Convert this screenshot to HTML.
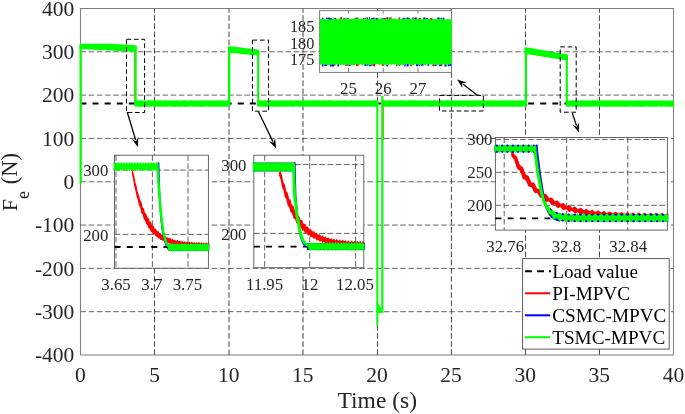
<!DOCTYPE html>
<html lang="en"><head><meta charset="utf-8"><title>Fe vs Time</title>
<style>html,body{margin:0;padding:0;background:#fff}svg{display:block}</style></head>
<body>
<svg width="685" height="414" viewBox="0 0 685 414" font-family="'Liberation Serif', serif" fill="#262626">
<rect width="685" height="414" fill="#fff"/>
<line x1="154.45" y1="355" x2="154.45" y2="8.5" stroke="#454545" stroke-width="1" stroke-dasharray="5.6 2.55"/>
<line x1="229" y1="355" x2="229" y2="8.5" stroke="#454545" stroke-width="1" stroke-dasharray="5.6 2.55"/>
<line x1="303" y1="355" x2="303" y2="8.5" stroke="#454545" stroke-width="1" stroke-dasharray="5.6 2.55"/>
<line x1="377.45" y1="355" x2="377.45" y2="8.5" stroke="#454545" stroke-width="1" stroke-dasharray="5.6 2.55"/>
<line x1="451.4" y1="355" x2="451.4" y2="8.5" stroke="#454545" stroke-width="1" stroke-dasharray="5.6 2.55"/>
<line x1="525.55" y1="355" x2="525.55" y2="8.5" stroke="#454545" stroke-width="1" stroke-dasharray="5.6 2.55"/>
<line x1="599.45" y1="355" x2="599.45" y2="8.5" stroke="#454545" stroke-width="1" stroke-dasharray="5.6 2.55"/>
<line x1="80.45" y1="311.69" x2="673.45" y2="311.69" stroke="#555555" stroke-width="0.9" stroke-dasharray="5.6 2.6"/>
<line x1="80.45" y1="268.38" x2="673.45" y2="268.38" stroke="#555555" stroke-width="0.9" stroke-dasharray="5.6 2.6"/>
<line x1="80.45" y1="225.06" x2="673.45" y2="225.06" stroke="#555555" stroke-width="0.9" stroke-dasharray="5.6 2.6"/>
<line x1="80.45" y1="181.75" x2="673.45" y2="181.75" stroke="#555555" stroke-width="0.9" stroke-dasharray="5.6 2.6"/>
<line x1="80.45" y1="138.44" x2="673.45" y2="138.44" stroke="#555555" stroke-width="0.9" stroke-dasharray="5.6 2.6"/>
<line x1="80.45" y1="95.12" x2="673.45" y2="95.12" stroke="#555555" stroke-width="0.9" stroke-dasharray="5.6 2.6"/>
<line x1="80.45" y1="51.81" x2="673.45" y2="51.81" stroke="#555555" stroke-width="0.9" stroke-dasharray="5.6 2.6"/>
<rect x="80.45" y="8.5" width="593" height="346.5" fill="none" stroke="#7c7c7c" stroke-width="1"/>
<line x1="80.45" y1="103.6" x2="673.45" y2="103.6" stroke="#000" stroke-width="2" stroke-dasharray="6 6.1"/>
<line x1="134.5" y1="50" x2="134.5" y2="103" stroke="#ff5a00" stroke-width="0.7"/>
<line x1="383.6" y1="106" x2="383.6" y2="140" stroke="#ff0000" stroke-width="0.6"/>
<line x1="80.7" y1="183.4" x2="80.7" y2="45" stroke="#00ff00" stroke-width="2.3"/>
<polygon points="79.6,43.77 80.81,43.82 82.03,43.81 83.24,43.73 84.45,43.73 85.66,43.73 86.88,43.79 88.09,43.74 89.3,43.82 90.51,43.81 91.73,43.88 92.94,43.86 94.15,43.74 95.37,43.77 96.58,43.75 97.79,43.82 99,43.81 100.22,43.73 101.43,43.83 102.64,43.77 103.86,43.79 105.07,43.85 106.28,43.76 107.49,43.8 108.71,43.84 109.92,43.88 111.13,43.79 112.34,43.77 113.56,43.83 114.77,44.02 115.98,44.12 117.2,44.17 118.41,44.23 119.62,44.35 120.83,44.37 122.05,44.38 123.26,44.56 124.47,44.66 125.69,44.67 126.9,44.69 128.11,44.79 129.32,44.86 130.54,44.95 131.75,45.07 132.96,45.1 134.17,45.25 135.39,45.37 136.6,45.36 136.6,51.99 135.39,51.99 134.17,51.92 132.96,51.79 131.75,51.79 130.54,51.62 129.32,51.63 128.11,51.46 126.9,51.45 125.69,51.41 124.47,51.28 123.26,51.33 122.05,51.21 120.83,51.14 119.62,51.11 118.41,50.97 117.2,50.92 115.98,50.81 114.77,50.78 113.56,50.73 112.34,50.63 111.13,50.6 109.92,50.44 108.71,50.41 107.49,50.44 106.28,50.34 105.07,50.3 103.86,50.18 102.64,50.17 101.43,50.09 100.22,50 99,49.92 97.79,49.92 96.58,49.89 95.37,49.88 94.15,49.71 92.94,49.68 91.73,49.59 90.51,49.59 89.3,49.62 88.09,49.45 86.88,49.49 85.66,49.31 84.45,49.31 83.24,49.27 82.03,49.19 80.81,49.09 79.6,49.04" fill="#00ff00"/>
<line x1="135.5" y1="46" x2="135.5" y2="104" stroke="#00ff00" stroke-width="2.4"/>
<polygon points="134.3,100.36 135.5,100.54 136.7,100.3 137.9,100.32 139.1,100.43 140.3,100.25 141.5,100.36 142.7,100.54 143.9,100.4 145.1,100.45 146.3,100.52 147.5,100.51 148.7,100.37 149.9,100.28 151.1,100.27 152.3,100.31 153.5,100.35 154.7,100.25 155.9,100.28 157.1,100.26 158.3,100.43 159.5,100.33 160.7,100.36 161.9,100.5 163.1,100.39 164.3,100.28 165.5,100.35 166.7,100.5 167.9,100.26 169.1,100.41 170.3,100.41 171.5,100.41 172.7,100.51 173.9,100.33 175.1,100.3 176.3,100.41 177.5,100.35 178.7,100.49 179.9,100.51 181.1,100.5 182.3,100.32 183.5,100.36 184.7,100.26 185.9,100.33 187.1,100.54 188.3,100.53 189.5,100.54 190.7,100.32 191.9,100.31 193.1,100.44 194.3,100.5 195.5,100.45 196.7,100.28 197.9,100.52 199.1,100.48 200.3,100.3 201.5,100.35 202.7,100.54 203.9,100.37 205.1,100.47 206.3,100.29 207.5,100.52 208.7,100.29 209.9,100.54 211.1,100.36 212.3,100.29 213.5,100.54 214.7,100.41 215.9,100.38 217.1,100.5 218.3,100.33 219.5,100.32 220.7,100.33 221.9,100.29 223.1,100.36 224.3,100.43 225.5,100.38 226.7,100.4 227.9,100.41 229.1,100.38 230.3,100.25 230.3,106.79 229.1,106.6 227.9,106.56 226.7,106.71 225.5,106.83 224.3,106.82 223.1,106.69 221.9,106.82 220.7,106.68 219.5,106.73 218.3,106.64 217.1,106.61 215.9,106.81 214.7,106.83 213.5,106.74 212.3,106.55 211.1,106.71 209.9,106.75 208.7,106.8 207.5,106.79 206.3,106.6 205.1,106.6 203.9,106.83 202.7,106.67 201.5,106.79 200.3,106.79 199.1,106.69 197.9,106.78 196.7,106.75 195.5,106.79 194.3,106.69 193.1,106.82 191.9,106.61 190.7,106.62 189.5,106.66 188.3,106.85 187.1,106.68 185.9,106.76 184.7,106.63 183.5,106.56 182.3,106.71 181.1,106.77 179.9,106.79 178.7,106.85 177.5,106.62 176.3,106.78 175.1,106.78 173.9,106.66 172.7,106.76 171.5,106.84 170.3,106.56 169.1,106.59 167.9,106.84 166.7,106.6 165.5,106.63 164.3,106.58 163.1,106.7 161.9,106.85 160.7,106.59 159.5,106.65 158.3,106.59 157.1,106.81 155.9,106.66 154.7,106.6 153.5,106.57 152.3,106.6 151.1,106.57 149.9,106.74 148.7,106.67 147.5,106.79 146.3,106.78 145.1,106.57 143.9,106.74 142.7,106.76 141.5,106.72 140.3,106.68 139.1,106.63 137.9,106.7 136.7,106.62 135.5,106.6 134.3,106.82" fill="#00ff00"/>
<line x1="229.2" y1="47" x2="229.2" y2="104" stroke="#00ff00" stroke-width="2.3"/>
<polygon points="228.1,45.95 229.34,46.18 230.59,46.27 231.83,46.45 233.08,46.53 234.32,46.7 235.56,46.93 236.81,47.05 238.05,47.25 239.3,47.35 240.54,47.48 241.78,47.62 243.03,47.77 244.27,47.96 245.52,48.14 246.76,48.23 248,48.42 249.25,48.46 250.49,48.6 251.74,48.74 252.98,49.01 254.22,49.05 255.47,49.28 256.71,49.47 257.96,49.51 259.2,49.68 259.2,55.8 257.96,55.74 256.71,55.61 255.47,55.35 254.22,55.31 252.98,55.2 251.74,55.04 250.49,54.83 249.25,54.73 248,54.55 246.76,54.55 245.52,54.31 244.27,54.28 243.03,54.15 241.78,53.96 240.54,53.85 239.3,53.69 238.05,53.55 236.81,53.47 235.56,53.29 234.32,53.12 233.08,53.04 231.83,52.94 230.59,52.77 229.34,52.64 228.1,52.5" fill="#00ff00"/>
<line x1="258.2" y1="51" x2="258.2" y2="104" stroke="#00ff00" stroke-width="2.1"/>
<polygon points="257.2,100.55 258.41,100.3 259.62,100.4 260.83,100.31 262.04,100.47 263.25,100.42 264.47,100.26 265.68,100.44 266.89,100.27 268.1,100.49 269.31,100.28 270.52,100.26 271.73,100.33 272.94,100.38 274.15,100.5 275.37,100.29 276.58,100.42 277.79,100.28 279,100.46 280.21,100.27 281.42,100.44 282.63,100.28 283.84,100.27 285.05,100.39 286.26,100.42 287.48,100.33 288.69,100.41 289.9,100.28 291.11,100.27 292.32,100.34 293.53,100.48 294.74,100.4 295.95,100.35 297.16,100.33 298.37,100.47 299.58,100.31 300.8,100.53 302.01,100.5 303.22,100.4 304.43,100.37 305.64,100.46 306.85,100.35 308.06,100.46 309.27,100.37 310.48,100.27 311.69,100.27 312.91,100.33 314.12,100.28 315.33,100.51 316.54,100.33 317.75,100.34 318.96,100.3 320.17,100.33 321.38,100.54 322.59,100.32 323.81,100.34 325.02,100.25 326.23,100.39 327.44,100.31 328.65,100.25 329.86,100.28 331.07,100.26 332.28,100.34 333.49,100.43 334.7,100.48 335.92,100.46 337.13,100.37 338.34,100.55 339.55,100.47 340.76,100.26 341.97,100.52 343.18,100.47 344.39,100.29 345.6,100.4 346.81,100.49 348.02,100.43 349.24,100.45 350.45,100.32 351.66,100.29 352.87,100.28 354.08,100.42 355.29,100.44 356.5,100.4 357.71,100.49 358.92,100.4 360.13,100.45 361.35,100.47 362.56,100.27 363.77,100.47 364.98,100.47 366.19,100.4 367.4,100.39 368.61,100.48 369.82,100.44 371.03,100.29 372.25,100.47 373.46,100.42 374.67,100.27 375.88,100.45 377.09,100.45 378.3,100.4 378.3,106.69 377.09,106.64 375.88,106.76 374.67,106.63 373.46,106.55 372.25,106.64 371.03,106.63 369.82,106.57 368.61,106.74 367.4,106.76 366.19,106.66 364.98,106.84 363.77,106.61 362.56,106.63 361.35,106.63 360.13,106.57 358.92,106.71 357.71,106.77 356.5,106.55 355.29,106.75 354.08,106.74 352.87,106.8 351.66,106.66 350.45,106.56 349.24,106.76 348.02,106.82 346.81,106.8 345.6,106.8 344.39,106.71 343.18,106.79 341.97,106.74 340.76,106.8 339.55,106.74 338.34,106.59 337.13,106.65 335.92,106.81 334.7,106.75 333.49,106.71 332.28,106.62 331.07,106.56 329.86,106.67 328.65,106.63 327.44,106.7 326.23,106.7 325.02,106.66 323.81,106.66 322.59,106.84 321.38,106.71 320.17,106.84 318.96,106.68 317.75,106.69 316.54,106.62 315.33,106.75 314.12,106.8 312.91,106.6 311.69,106.77 310.48,106.59 309.27,106.65 308.06,106.74 306.85,106.8 305.64,106.84 304.43,106.7 303.22,106.8 302.01,106.68 300.8,106.58 299.58,106.69 298.37,106.72 297.16,106.55 295.95,106.56 294.74,106.6 293.53,106.64 292.32,106.64 291.11,106.61 289.9,106.6 288.69,106.62 287.48,106.59 286.26,106.83 285.05,106.65 283.84,106.81 282.63,106.81 281.42,106.79 280.21,106.83 279,106.68 277.79,106.57 276.58,106.76 275.37,106.83 274.15,106.63 272.94,106.82 271.73,106.59 270.52,106.78 269.31,106.63 268.1,106.84 266.89,106.85 265.68,106.7 264.47,106.65 263.25,106.68 262.04,106.56 260.83,106.65 259.62,106.65 258.41,106.68 257.2,106.8" fill="#00ff00"/>
<line x1="377.3" y1="101" x2="377.3" y2="325" stroke="#00ff00" stroke-width="2"/>
<line x1="382.3" y1="95.8" x2="382.3" y2="312.8" stroke="#00ff00" stroke-width="2.2"/>
<polygon points="378,303 381.5,309 381.5,313 378,313" fill="#00ff00"/>
<polygon points="381.3,100.39 382.5,100.52 383.71,100.54 384.91,100.26 386.12,100.5 387.32,100.38 388.52,100.31 389.73,100.31 390.93,100.29 392.14,100.54 393.34,100.5 394.55,100.52 395.75,100.32 396.95,100.4 398.16,100.25 399.36,100.39 400.57,100.29 401.77,100.34 402.97,100.25 404.18,100.5 405.38,100.53 406.59,100.52 407.79,100.36 409,100.55 410.2,100.36 411.4,100.33 412.61,100.28 413.81,100.34 415.02,100.32 416.22,100.4 417.42,100.36 418.63,100.52 419.83,100.44 421.04,100.53 422.24,100.47 423.44,100.47 424.65,100.48 425.85,100.34 427.06,100.53 428.26,100.39 429.47,100.34 430.67,100.54 431.87,100.45 433.08,100.42 434.28,100.3 435.49,100.31 436.69,100.4 437.89,100.52 439.1,100.38 440.3,100.31 441.51,100.35 442.71,100.32 443.91,100.42 445.12,100.47 446.32,100.37 447.53,100.36 448.73,100.27 449.94,100.54 451.14,100.4 452.34,100.51 453.55,100.33 454.75,100.37 455.96,100.54 457.16,100.51 458.36,100.26 459.57,100.52 460.77,100.43 461.98,100.37 463.18,100.5 464.39,100.54 465.59,100.28 466.79,100.41 468,100.53 469.2,100.44 470.41,100.39 471.61,100.26 472.81,100.32 474.02,100.44 475.22,100.29 476.43,100.44 477.63,100.28 478.83,100.41 480.04,100.37 481.24,100.43 482.45,100.34 483.65,100.54 484.86,100.52 486.06,100.32 487.26,100.54 488.47,100.34 489.67,100.4 490.88,100.38 492.08,100.45 493.28,100.32 494.49,100.35 495.69,100.45 496.9,100.49 498.1,100.4 499.3,100.54 500.51,100.5 501.71,100.32 502.92,100.34 504.12,100.4 505.33,100.32 506.53,100.45 507.73,100.29 508.94,100.31 510.14,100.29 511.35,100.27 512.55,100.52 513.75,100.47 514.96,100.53 516.16,100.31 517.37,100.47 518.57,100.45 519.78,100.36 520.98,100.3 522.18,100.33 523.39,100.54 524.59,100.54 525.8,100.36 527,100.5 527,106.68 525.8,106.8 524.59,106.61 523.39,106.59 522.18,106.66 520.98,106.55 519.78,106.65 518.57,106.66 517.37,106.56 516.16,106.83 514.96,106.65 513.75,106.85 512.55,106.82 511.35,106.67 510.14,106.57 508.94,106.84 507.73,106.67 506.53,106.83 505.33,106.68 504.12,106.61 502.92,106.84 501.71,106.78 500.51,106.62 499.3,106.64 498.1,106.61 496.9,106.77 495.69,106.61 494.49,106.68 493.28,106.56 492.08,106.83 490.88,106.63 489.67,106.75 488.47,106.56 487.26,106.76 486.06,106.62 484.86,106.69 483.65,106.74 482.45,106.69 481.24,106.55 480.04,106.62 478.83,106.72 477.63,106.57 476.43,106.76 475.22,106.63 474.02,106.64 472.81,106.83 471.61,106.78 470.41,106.72 469.2,106.78 468,106.77 466.79,106.75 465.59,106.6 464.39,106.62 463.18,106.81 461.98,106.83 460.77,106.55 459.57,106.69 458.36,106.76 457.16,106.56 455.96,106.8 454.75,106.68 453.55,106.62 452.34,106.61 451.14,106.74 449.94,106.59 448.73,106.63 447.53,106.65 446.32,106.71 445.12,106.67 443.91,106.82 442.71,106.63 441.51,106.58 440.3,106.58 439.1,106.59 437.89,106.85 436.69,106.62 435.49,106.82 434.28,106.6 433.08,106.67 431.87,106.64 430.67,106.63 429.47,106.77 428.26,106.65 427.06,106.59 425.85,106.56 424.65,106.74 423.44,106.69 422.24,106.56 421.04,106.71 419.83,106.82 418.63,106.79 417.42,106.84 416.22,106.61 415.02,106.63 413.81,106.83 412.61,106.8 411.4,106.56 410.2,106.68 409,106.73 407.79,106.67 406.59,106.64 405.38,106.76 404.18,106.59 402.97,106.78 401.77,106.8 400.57,106.65 399.36,106.64 398.16,106.7 396.95,106.56 395.75,106.82 394.55,106.76 393.34,106.7 392.14,106.59 390.93,106.71 389.73,106.72 388.52,106.83 387.32,106.63 386.12,106.84 384.91,106.69 383.71,106.83 382.5,106.61 381.3,106.59" fill="#00ff00"/>
<line x1="525.85" y1="48" x2="525.85" y2="104" stroke="#00ff00" stroke-width="2.3"/>
<polygon points="524.7,46.93 525.93,47.19 527.16,47.38 528.39,47.71 529.63,47.84 530.86,48.11 532.09,48.21 533.32,48.57 534.55,48.75 535.78,48.9 537.01,49.22 538.25,49.32 539.48,49.54 540.71,49.71 541.94,50.07 543.17,50.29 544.4,50.39 545.63,50.72 546.87,50.84 548.1,51.06 549.33,51.35 550.56,51.55 551.79,51.77 553.02,51.95 554.25,52.11 555.49,52.4 556.72,52.52 557.95,52.75 559.18,52.93 560.41,53.19 561.64,53.49 562.87,53.61 564.11,53.79 565.34,54.1 566.57,54.24 567.8,54.52 567.8,60.63 566.57,60.39 565.34,60.2 564.11,60.02 562.87,59.76 561.64,59.71 560.41,59.51 559.18,59.25 557.95,58.98 556.72,58.89 555.49,58.59 554.25,58.44 553.02,58.24 551.79,58.12 550.56,57.92 549.33,57.63 548.1,57.49 546.87,57.26 545.63,57.18 544.4,56.9 543.17,56.64 541.94,56.54 540.71,56.37 539.48,56.1 538.25,55.97 537.01,55.76 535.78,55.51 534.55,55.42 533.32,55.12 532.09,54.9 530.86,54.7 529.63,54.63 528.39,54.31 527.16,54.17 525.93,54.06 524.7,53.8" fill="#00ff00"/>
<line x1="566.8" y1="55" x2="566.8" y2="104" stroke="#00ff00" stroke-width="2.1"/>
<polygon points="565.8,100.47 567,100.45 568.2,100.5 569.4,100.42 570.6,100.47 571.8,100.32 573,100.3 574.2,100.42 575.4,100.37 576.61,100.4 577.81,100.49 579.01,100.55 580.21,100.39 581.41,100.5 582.61,100.26 583.81,100.29 585.01,100.54 586.21,100.53 587.41,100.51 588.61,100.33 589.81,100.53 591.01,100.43 592.21,100.32 593.41,100.29 594.61,100.33 595.81,100.45 597.01,100.25 598.21,100.45 599.42,100.34 600.62,100.49 601.82,100.27 603.02,100.37 604.22,100.44 605.42,100.3 606.62,100.37 607.82,100.34 609.02,100.34 610.22,100.36 611.42,100.51 612.62,100.36 613.82,100.47 615.02,100.25 616.22,100.38 617.42,100.37 618.62,100.39 619.82,100.25 621.03,100.44 622.23,100.28 623.43,100.36 624.63,100.29 625.83,100.41 627.03,100.28 628.23,100.49 629.43,100.31 630.63,100.53 631.83,100.39 633.03,100.53 634.23,100.52 635.43,100.5 636.63,100.49 637.83,100.37 639.03,100.5 640.23,100.32 641.43,100.41 642.64,100.29 643.84,100.47 645.04,100.26 646.24,100.48 647.44,100.5 648.64,100.43 649.84,100.44 651.04,100.38 652.24,100.38 653.44,100.38 654.64,100.26 655.84,100.4 657.04,100.48 658.24,100.39 659.44,100.39 660.64,100.29 661.84,100.28 663.04,100.4 664.25,100.44 665.45,100.47 666.65,100.4 667.85,100.4 669.05,100.54 670.25,100.51 671.45,100.47 672.65,100.31 673.85,100.4 673.85,106.84 672.65,106.84 671.45,106.79 670.25,106.85 669.05,106.59 667.85,106.66 666.65,106.57 665.45,106.78 664.25,106.57 663.04,106.56 661.84,106.68 660.64,106.68 659.44,106.58 658.24,106.6 657.04,106.78 655.84,106.62 654.64,106.74 653.44,106.68 652.24,106.75 651.04,106.72 649.84,106.64 648.64,106.72 647.44,106.59 646.24,106.56 645.04,106.72 643.84,106.82 642.64,106.62 641.43,106.67 640.23,106.67 639.03,106.6 637.83,106.8 636.63,106.62 635.43,106.6 634.23,106.74 633.03,106.67 631.83,106.57 630.63,106.84 629.43,106.59 628.23,106.84 627.03,106.7 625.83,106.83 624.63,106.63 623.43,106.7 622.23,106.74 621.03,106.82 619.82,106.72 618.62,106.6 617.42,106.81 616.22,106.8 615.02,106.82 613.82,106.61 612.62,106.61 611.42,106.85 610.22,106.67 609.02,106.72 607.82,106.84 606.62,106.63 605.42,106.76 604.22,106.58 603.02,106.72 601.82,106.58 600.62,106.71 599.42,106.61 598.21,106.61 597.01,106.65 595.81,106.61 594.61,106.73 593.41,106.61 592.21,106.66 591.01,106.74 589.81,106.58 588.61,106.78 587.41,106.68 586.21,106.66 585.01,106.72 583.81,106.61 582.61,106.64 581.41,106.82 580.21,106.8 579.01,106.58 577.81,106.75 576.61,106.62 575.4,106.85 574.2,106.65 573,106.82 571.8,106.62 570.6,106.61 569.4,106.66 568.2,106.64 567,106.59 565.8,106.8" fill="#00ff00"/>
<rect x="378.6" y="102.6" width="2.2" height="1.9" fill="#000"/>
<rect x="126.5" y="39.3" width="18.1" height="73.2" fill="none" stroke="#000" stroke-width="1" stroke-dasharray="4.7 2.7"/>
<rect x="252.5" y="40.1" width="16.1" height="71.1" fill="none" stroke="#000" stroke-width="1" stroke-dasharray="4.7 2.7"/>
<rect x="439.5" y="95.4" width="43.8" height="15.6" fill="none" stroke="#000" stroke-width="1" stroke-dasharray="4.7 2.7"/>
<rect x="560.2" y="46.9" width="16" height="65.3" fill="none" stroke="#000" stroke-width="1" stroke-dasharray="4.7 2.7"/>
<line x1="127.2" y1="112" x2="135.68" y2="140.01" stroke="#000" stroke-width="1.25"/>
<polygon points="137.8,147 131.85,139.08 136.02,141.13 138.36,137.11" fill="#000"/>
<line x1="258.5" y1="111.8" x2="272.92" y2="141.63" stroke="#000" stroke-width="1.25"/>
<polygon points="276.1,148.2 268.99,141.31 273.43,142.67 275.11,138.35" fill="#000"/>
<line x1="477" y1="94.9" x2="462.87" y2="83.97" stroke="#000" stroke-width="1.25"/>
<polygon points="457.1,79.5 466.54,82.5 461.95,83.26 462.37,87.88" fill="#000"/>
<line x1="572.2" y1="112.8" x2="576.49" y2="125.67" stroke="#000" stroke-width="1.25"/>
<polygon points="578.8,132.6 572.63,124.85 576.86,126.78 579.08,122.7" fill="#000"/>
<rect x="319.6" y="10.6" width="131.9" height="61.8" fill="#fff" stroke="#7c7c7c" stroke-width="1"/>
<line x1="348.5" y1="72.4" x2="348.5" y2="67.9" stroke="#7c7c7c" stroke-width="1"/>
<line x1="348.5" y1="10.6" x2="348.5" y2="13.6" stroke="#7c7c7c" stroke-width="1"/>
<line x1="383.2" y1="72.4" x2="383.2" y2="67.9" stroke="#7c7c7c" stroke-width="1"/>
<line x1="383.2" y1="10.6" x2="383.2" y2="13.6" stroke="#7c7c7c" stroke-width="1"/>
<line x1="418" y1="72.4" x2="418" y2="67.9" stroke="#7c7c7c" stroke-width="1"/>
<line x1="418" y1="10.6" x2="418" y2="13.6" stroke="#7c7c7c" stroke-width="1"/>
<line x1="319.6" y1="26.7" x2="322.6" y2="26.7" stroke="#7c7c7c" stroke-width="1"/>
<line x1="319.6" y1="43.4" x2="322.6" y2="43.4" stroke="#7c7c7c" stroke-width="1"/>
<line x1="319.6" y1="60.1" x2="322.6" y2="60.1" stroke="#7c7c7c" stroke-width="1"/>
<rect x="321.88" y="17.65" width="1.63" height="3.15" fill="#0000ff"/>
<rect x="321.88" y="63" width="1.66" height="3.41" fill="#0000ff"/>
<rect x="324.26" y="63" width="2.5" height="3.05" fill="#0000ff"/>
<rect x="325.91" y="17.65" width="1.61" height="3.15" fill="#0000ff"/>
<rect x="325.91" y="63" width="1.54" height="2.63" fill="#0000ff"/>
<rect x="327.5" y="17.59" width="2.46" height="3.21" fill="#0000ff"/>
<rect x="329.85" y="18.1" width="1.99" height="2.7" fill="#0000ff"/>
<rect x="329.85" y="63" width="1.89" height="3.47" fill="#0000ff"/>
<rect x="331.88" y="63" width="2.12" height="3.49" fill="#0000ff"/>
<rect x="333.75" y="17.96" width="2.59" height="2.84" fill="#0000ff"/>
<rect x="333.75" y="63" width="1.73" height="2.73" fill="#ff0000"/>
<rect x="337.39" y="63" width="1.63" height="3.34" fill="#0000ff"/>
<rect x="339.55" y="17.36" width="2.46" height="3.44" fill="#ff0000"/>
<rect x="343.6" y="17.82" width="1.77" height="2.98" fill="#0000ff"/>
<rect x="345.16" y="63" width="1.33" height="3.19" fill="#ff0000"/>
<rect x="346.56" y="17.93" width="1.98" height="2.87" fill="#0000ff"/>
<rect x="346.56" y="63" width="2.06" height="2.8" fill="#ff0000"/>
<rect x="348.67" y="63" width="1.92" height="3.16" fill="#0000ff"/>
<rect x="354.62" y="17.84" width="1.64" height="2.96" fill="#0000ff"/>
<rect x="356.08" y="17.4" width="2.07" height="3.4" fill="#ff0000"/>
<rect x="356.08" y="63" width="2.52" height="3" fill="#ff0000"/>
<rect x="362.89" y="18.03" width="1.51" height="2.77" fill="#0000ff"/>
<rect x="364.3" y="17.61" width="1.56" height="3.19" fill="#ff0000"/>
<rect x="364.3" y="63" width="2.09" height="2.78" fill="#0000ff"/>
<rect x="366.31" y="17.47" width="1.53" height="3.33" fill="#0000ff"/>
<rect x="366.31" y="63" width="2.11" height="2.66" fill="#0000ff"/>
<rect x="368.9" y="17.56" width="1.31" height="3.24" fill="#0000ff"/>
<rect x="368.9" y="63" width="1.9" height="3.27" fill="#0000ff"/>
<rect x="371.19" y="18.04" width="2.6" height="2.76" fill="#0000ff"/>
<rect x="371.19" y="63" width="1.35" height="2.81" fill="#0000ff"/>
<rect x="372.99" y="17.56" width="1.65" height="3.24" fill="#0000ff"/>
<rect x="372.99" y="63" width="2.19" height="3.21" fill="#ff0000"/>
<rect x="375.49" y="17.93" width="2.51" height="2.87" fill="#0000ff"/>
<rect x="377" y="18.19" width="1.64" height="2.61" fill="#ff0000"/>
<rect x="381.7" y="18.03" width="1.81" height="2.77" fill="#0000ff"/>
<rect x="381.7" y="63" width="2.48" height="2.82" fill="#ff0000"/>
<rect x="383.86" y="17.78" width="2.39" height="3.02" fill="#ff0000"/>
<rect x="386.29" y="17.34" width="1.6" height="3.46" fill="#0000ff"/>
<rect x="386.29" y="63" width="1.81" height="3.31" fill="#0000ff"/>
<rect x="388.39" y="17.38" width="1.49" height="3.42" fill="#ff0000"/>
<rect x="389.93" y="17.36" width="1.75" height="3.44" fill="#ff0000"/>
<rect x="396.02" y="63" width="1.56" height="3.29" fill="#ff0000"/>
<rect x="398.56" y="17.4" width="1.39" height="3.4" fill="#ff0000"/>
<rect x="398.56" y="63" width="1.57" height="2.7" fill="#0000ff"/>
<rect x="402.49" y="17.77" width="1.47" height="3.03" fill="#0000ff"/>
<rect x="404.24" y="17.82" width="1.33" height="2.98" fill="#0000ff"/>
<rect x="404.24" y="63" width="1.36" height="3.44" fill="#0000ff"/>
<rect x="406.55" y="17.51" width="2.08" height="3.29" fill="#0000ff"/>
<rect x="406.55" y="63" width="2.1" height="3.37" fill="#0000ff"/>
<rect x="407.99" y="18.17" width="1.97" height="2.63" fill="#0000ff"/>
<rect x="409.8" y="63" width="2.23" height="3.11" fill="#ff0000"/>
<rect x="412.2" y="17.46" width="1.52" height="3.34" fill="#ff0000"/>
<rect x="414.23" y="17.51" width="2.57" height="3.29" fill="#0000ff"/>
<rect x="416.04" y="63" width="2.37" height="3.23" fill="#0000ff"/>
<rect x="418.6" y="17.89" width="2.38" height="2.91" fill="#ff0000"/>
<rect x="418.6" y="63" width="1.51" height="3.12" fill="#0000ff"/>
<rect x="420.98" y="63" width="2.52" height="2.75" fill="#0000ff"/>
<rect x="423.3" y="17.49" width="2.21" height="3.31" fill="#0000ff"/>
<rect x="425.46" y="18.11" width="2.51" height="2.69" fill="#0000ff"/>
<rect x="427.36" y="63" width="1.64" height="2.79" fill="#0000ff"/>
<rect x="429.84" y="18.05" width="2.58" height="2.75" fill="#ff0000"/>
<rect x="432.38" y="63" width="2.2" height="3.13" fill="#ff0000"/>
<rect x="434.5" y="63" width="1.98" height="3.12" fill="#0000ff"/>
<rect x="436.95" y="17.6" width="2.26" height="3.2" fill="#0000ff"/>
<rect x="438.9" y="17.68" width="1.46" height="3.12" fill="#0000ff"/>
<rect x="438.9" y="63" width="2.21" height="3.18" fill="#0000ff"/>
<rect x="440.91" y="17.93" width="2.21" height="2.87" fill="#0000ff"/>
<rect x="440.91" y="63" width="1.5" height="2.74" fill="#ff0000"/>
<rect x="442.61" y="17.66" width="1.75" height="3.14" fill="#0000ff"/>
<rect x="444.4" y="63" width="2.25" height="3.48" fill="#0000ff"/>
<rect x="447.78" y="63" width="1.87" height="3.26" fill="#0000ff"/>
<rect x="449.42" y="63" width="1.8" height="2.79" fill="#0000ff"/>
<polygon points="319.8,18.75 320.91,19.19 322.02,19.1 323.13,18.36 324.24,18.76 325.35,19.51 326.46,19.01 327.56,18.78 328.67,19.23 329.78,19.31 330.89,19.43 332,19.11 333.11,18.62 334.22,18.3 335.33,19.32 336.44,19.09 337.55,18.79 338.66,19.08 339.77,19.16 340.88,18.42 341.98,19.32 343.09,18.88 344.2,18.21 345.31,18.39 346.42,19.56 347.53,18.3 348.64,18.96 349.75,18.92 350.86,19.39 351.97,18.77 353.08,18.47 354.19,18.74 355.3,18.33 356.41,18.68 357.51,18.56 358.62,18.17 359.73,18.78 360.84,18.68 361.95,18.49 363.06,19.56 364.17,18.48 365.28,18.74 366.39,18.34 367.5,19.36 368.61,18.85 369.72,18.49 370.83,18.68 371.93,19.38 373.04,18.85 374.15,18.97 375.26,19.4 376.37,19.43 377.48,18.71 378.59,18.79 379.7,18.15 380.81,18.57 381.92,18.6 383.03,18.79 384.14,19.14 385.25,19.54 386.35,18.24 387.46,19.51 388.57,18.36 389.68,19.1 390.79,18.17 391.9,19.13 393.01,18.3 394.12,18.5 395.23,18.67 396.34,19.51 397.45,18.4 398.56,19.06 399.67,19.15 400.77,19.33 401.88,18.45 402.99,18.95 404.1,18.81 405.21,18.98 406.32,18.5 407.43,18.89 408.54,18.85 409.65,18.89 410.76,18.96 411.87,18.16 412.98,18.85 414.09,19.15 415.19,18.71 416.3,19.59 417.41,19.11 418.52,18.19 419.63,19.17 420.74,18.65 421.85,18.92 422.96,19.5 424.07,19.23 425.18,18.66 426.29,18.7 427.4,18.94 428.51,18.47 429.62,18.78 430.72,19.39 431.83,19.39 432.94,18.91 434.05,18.91 435.16,19.13 436.27,18.65 437.38,18.6 438.49,19.1 439.6,18.21 440.71,19.48 441.82,18.22 442.93,18.16 444.04,19.53 445.14,19.14 446.25,19.51 447.36,19.08 448.47,19.19 449.58,19.17 450.69,19.15 451.8,19.29 451.8,64 450.69,64.54 449.58,64.17 448.47,64.74 447.36,64.79 446.25,64.77 445.14,65.03 444.04,64.76 442.93,64.13 441.82,64.3 440.71,64.67 439.6,64.93 438.49,65.03 437.38,64.73 436.27,64.33 435.16,65.04 434.05,65.31 432.94,64.26 431.83,64.46 430.72,64.29 429.62,64.68 428.51,64.5 427.4,65.01 426.29,64.56 425.18,65.14 424.07,64.79 422.96,63.9 421.85,64.58 420.74,65.32 419.63,65.25 418.52,64.76 417.41,64.8 416.3,63.96 415.19,64.48 414.09,65.11 412.98,64.69 411.87,65.11 410.76,65.14 409.65,64.6 408.54,64.07 407.43,63.94 406.32,64.06 405.21,64.25 404.1,65.17 402.99,64.96 401.88,64.89 400.77,65.11 399.67,65.19 398.56,65.02 397.45,65.19 396.34,65.04 395.23,64.08 394.12,65.01 393.01,64.06 391.9,64.23 390.79,65.28 389.68,63.87 388.57,65.1 387.46,65.03 386.35,65.09 385.25,65.13 384.14,64.39 383.03,64.81 381.92,64.57 380.81,64.22 379.7,64.93 378.59,64.13 377.48,64.23 376.37,64.25 375.26,64.38 374.15,64.04 373.04,64.29 371.93,65.07 370.83,64.81 369.72,65.3 368.61,64.69 367.5,64.8 366.39,65.01 365.28,64.17 364.17,65.05 363.06,64.64 361.95,64.96 360.84,64.25 359.73,64.9 358.62,64.48 357.51,64.45 356.41,63.93 355.3,65.33 354.19,64.99 353.08,64.88 351.97,65.27 350.86,64.63 349.75,64.81 348.64,64.93 347.53,64.71 346.42,64.63 345.31,65.02 344.2,64.67 343.09,65.31 341.98,64.43 340.88,64.83 339.77,65.25 338.66,64.46 337.55,64.53 336.44,64.23 335.33,64.92 334.22,64.48 333.11,64.79 332,64.53 330.89,64.87 329.78,64.9 328.67,65.17 327.56,64.19 326.46,64.97 325.35,64.5 324.24,64.96 323.13,64.76 322.02,64.54 320.91,64.6 319.8,65.04" fill="#00ff00"/>
<text x="314.3" y="31.5" font-size="16.3" text-anchor="end">185</text>
<text x="314.3" y="48.6" font-size="16.3" text-anchor="end">180</text>
<text x="314.3" y="65.1" font-size="16.3" text-anchor="end">175</text>
<text x="348.5" y="93.5" font-size="16.8" text-anchor="middle">25</text>
<text x="383.2" y="93.5" font-size="16.8" text-anchor="middle">26</text>
<text x="418" y="93.5" font-size="16.8" text-anchor="middle">27</text>
<rect x="114.5" y="155.2" width="93.9" height="113" fill="#fff" stroke="#5a5a5a" stroke-width="0.9"/>
<clipPath id="c2"><rect x="113.3" y="155.2" width="96.3" height="113"/></clipPath>
<g clip-path="url(#c2)">
<line x1="116" y1="155.2" x2="116" y2="268.2" stroke="#505050" stroke-width="0.9" stroke-dasharray="5.6 2.55"/>
<line x1="152.4" y1="155.2" x2="152.4" y2="268.2" stroke="#505050" stroke-width="0.9" stroke-dasharray="5.6 2.55"/>
<line x1="188" y1="155.2" x2="188" y2="268.2" stroke="#505050" stroke-width="0.9" stroke-dasharray="5.6 2.55"/>
<line x1="114.5" y1="170.1" x2="208.4" y2="170.1" stroke="#505050" stroke-width="0.9" stroke-dasharray="5.6 2.6"/>
<line x1="114.5" y1="234.4" x2="208.4" y2="234.4" stroke="#505050" stroke-width="0.9" stroke-dasharray="5.6 2.6"/>
<line x1="114.5" y1="247" x2="208.4" y2="247" stroke="#000" stroke-width="1.8" stroke-dasharray="6 6.26"/>
<polygon points="131.8,162.98 132.3,166.74 132.8,170.19 133.3,172.78 133.8,174.19 134.3,176.07 134.8,179.12 135.3,182.31 135.8,183.71 136.3,184.87 136.8,187.3 137.3,190.15 137.8,191.93 138.3,193.58 138.8,194.74 139.3,196.13 139.8,198.8 140.3,200.35 140.8,201.02 141.3,201.82 141.8,203.53 142.3,205.8 142.8,207.63 143.3,208.03 143.8,208.2 144.3,210.37 144.8,212.34 145.3,213.22 145.8,213.23 146.3,213.74 146.8,215.75 147.3,216.91 147.8,218.01 148.3,217.61 148.8,218.22 149.3,220.16 149.8,221.5 150.3,221.83 150.8,221.58 151.3,222.63 151.8,224.46 152.3,225.36 152.8,225.71 153.3,225.39 153.8,226.02 154.3,227.99 154.8,228.44 155.3,228.67 155.8,228.45 156.3,229.39 156.8,230.63 157.3,231.17 157.8,231 158.3,230.6 158.8,231.96 159.3,233.26 159.8,232.84 160.3,233.03 160.8,233.15 161.3,234.39 161.8,235.05 162.3,234.72 162.8,234.53 163.3,234.69 163.8,236.19 164.3,236.52 164.8,236.15 165.3,235.73 165.8,236.62 166.3,237.04 166.8,237.84 167.3,237.32 167.8,237.36 168.3,237.68 168.8,238.29 169.3,238.39 169.8,238.06 170.3,238.03 170.8,238.53 171.3,239.8 171.8,239.09 172.3,239.1 172.8,239.03 173.3,239.7 173.8,239.88 174.3,240.22 174.8,239.56 175.3,239.91 175.8,240.77 176.3,241.03 176.8,240.25 177.3,239.82 177.8,240.08 178.3,241.13 178.8,241.23 179.3,241.07 179.8,240.56 180.3,240.69 180.8,241.43 181.3,241.7 181.8,241.18 182.3,240.87 182.8,241.79 183.3,241.82 183.8,241.67 184.3,241.58 184.8,241.51 185.3,242.1 185.8,242.43 186.3,241.7 186.8,241.68 187.3,241.75 187.8,242.35 188.3,242.29 188.8,241.95 189.3,241.67 189.8,241.77 190.3,242.72 190.8,242.87 191.3,241.87 191.8,241.66 192.3,242.52 192.8,242.61 193.3,242.53 193.8,242.48 194.3,242 194.8,242.77 195.3,243.14 195.8,242.65 196.3,242.42 196.8,241.97 197.3,242.64 197.8,242.95 198.3,243.08 198.8,242.07 199.3,242.28 199.8,242.76 200.3,242.97 200.8,242.93 201.3,242.33 201.8,242.43 202.3,243.12 202.8,243.66 203.3,242.49 203.8,242.69 204.3,242.95 204.8,243.71 205.3,243.52 205.8,242.46 206.3,242.73 206.8,242.77 207.3,243.77 207.8,243.31 208.3,242.44 208.8,242.75 209.3,242.88 209.3,247.62 208.8,248.25 208.3,248.56 207.8,247.51 207.3,247.32 206.8,247.94 206.3,248.48 205.8,247.87 205.3,247.49 204.8,247.17 204.3,247.91 203.8,248.1 203.3,247.88 202.8,247.75 202.3,247.86 201.8,247.89 201.3,248.17 200.8,247.62 200.3,247.59 199.8,247.87 199.3,248.4 198.8,248.17 198.3,247.48 197.8,247.04 197.3,247.49 196.8,248.35 196.3,248.02 195.8,247.04 195.3,246.84 194.8,247.54 194.3,247.9 193.8,247.84 193.3,247.41 192.8,246.96 192.3,247.8 191.8,248.17 191.3,247.76 190.8,246.65 190.3,246.56 189.8,247.22 189.3,247.43 188.8,246.88 188.3,246.49 187.8,246.98 187.3,247.22 186.8,247.7 186.3,246.53 185.8,246.69 185.3,246.82 184.8,246.87 184.3,247.33 183.8,246.27 183.3,245.76 182.8,246.85 182.3,246.69 181.8,246.55 181.3,246.26 180.8,245.83 180.3,246.6 179.8,246.5 179.3,245.81 178.8,245.77 178.3,245.71 177.8,245.66 177.3,245.89 176.8,245.2 176.3,245.26 175.8,245.25 175.3,245.52 174.8,245.38 174.3,244.84 173.8,244.69 173.3,244.26 172.8,244.94 172.3,244.6 171.8,244.16 171.3,243.59 170.8,243.72 170.3,244.4 169.8,244.03 169.3,243.32 168.8,242.7 168.3,243.4 167.8,243.57 167.3,243.25 166.8,241.97 166.3,242.25 165.8,242.46 165.3,242.71 164.8,241.56 164.3,241.11 163.8,240.82 163.3,241.62 162.8,241.49 162.3,240.07 161.8,239.93 161.3,240.01 160.8,240.01 160.3,240.03 159.8,238.95 159.3,238.36 158.8,238.42 158.3,238.46 157.8,237.81 157.3,237.07 156.8,236.42 156.3,236.92 155.8,236.62 155.3,236.04 154.8,234.62 154.3,234.42 153.8,234.94 153.3,234.3 152.8,233.39 152.3,232.12 151.8,231.64 151.3,232.12 150.8,231.74 150.3,230.18 149.8,228.9 149.3,228.42 148.8,229.11 148.3,228.06 147.8,225.84 147.3,225 146.8,224.35 146.3,224.78 145.8,223.41 145.3,221.32 144.8,219.69 144.3,219.96 143.8,219.3 143.3,217.14 142.8,215.09 142.3,213.76 141.8,213.93 141.3,212.96 140.8,210.6 140.3,207.91 139.8,206.85 139.3,206.07 138.8,204.78 138.3,202.53 137.8,199.8 137.3,198.53 136.8,197.53 136.3,195.09 135.8,192.42 135.3,190.17 134.8,188.3 134.3,186.7 133.8,183.83 133.3,180.79 132.8,177.79 132.3,176.32 131.8,173.48" fill="#ff0000"/>
<polyline points="158.6,163 159,178 159.8,200 160.8,217 162.5,231 164.2,239 166,245 168.5,249.5" fill="none" stroke="#0000ff" stroke-width="1.5" stroke-linejoin="round" stroke-linecap="round"/>
<rect x="168" y="243.9" width="41.4" height="7" fill="#0000ff"/>
<polygon points="113.3,162.2 113.7,162.46 114.1,163.04 114.5,163.46 114.9,163.39 115.3,162.89 115.7,162.35 116.1,162.22 116.5,162.59 116.9,163.18 117.3,163.5 117.7,163.3 118.1,162.74 118.5,162.27 118.9,162.27 119.3,162.74 119.7,163.3 120.1,163.5 120.5,163.17 120.9,162.59 121.3,162.22 121.7,162.35 122.1,162.89 122.5,163.39 122.9,163.46 123.3,163.04 123.7,162.46 124.1,162.2 124.5,162.46 124.9,163.04 125.3,163.46 125.7,163.39 126.1,162.89 126.5,162.35 126.9,162.22 127.3,162.59 127.7,163.18 128.1,163.5 128.5,163.3 128.9,162.74 129.3,162.27 129.7,162.27 130.1,162.74 130.5,163.3 130.9,163.5 131.3,163.17 131.7,162.59 132.1,162.22 132.5,162.35 132.9,162.89 133.3,163.39 133.7,163.46 134.1,163.04 134.5,162.46 134.9,162.2 135.3,162.46 135.7,163.04 136.1,163.46 136.5,163.39 136.9,162.89 137.3,162.35 137.7,162.22 138.1,162.59 138.5,163.18 138.9,163.5 139.3,163.3 139.7,162.74 140.1,162.27 140.5,162.27 140.9,162.74 141.3,163.3 141.7,163.5 142.1,163.17 142.5,162.59 142.9,162.22 143.3,162.35 143.7,162.89 144.1,163.39 144.5,163.46 144.9,163.04 145.3,162.46 145.7,162.2 146.1,162.46 146.5,163.04 146.9,163.46 147.3,163.39 147.7,162.89 148.1,162.35 148.5,162.22 148.9,162.59 149.3,163.18 149.7,163.5 150.1,163.3 150.5,162.74 150.9,162.27 151.3,162.27 151.7,162.74 152.1,163.3 152.5,163.5 152.9,163.17 153.3,162.59 153.7,162.22 154.1,162.35 154.5,162.89 154.9,163.39 155.3,163.46 155.7,163.04 156.1,162.46 156.5,162.2 156.9,162.46 157.3,163.04 157.3,170.16 156.9,170.74 156.5,171 156.1,170.74 155.7,170.16 155.3,169.74 154.9,169.81 154.5,170.31 154.1,170.85 153.7,170.98 153.3,170.61 152.9,170.03 152.5,169.7 152.1,169.9 151.7,170.46 151.3,170.93 150.9,170.93 150.5,170.46 150.1,169.9 149.7,169.7 149.3,170.02 148.9,170.61 148.5,170.98 148.1,170.85 147.7,170.31 147.3,169.81 146.9,169.74 146.5,170.16 146.1,170.74 145.7,171 145.3,170.74 144.9,170.16 144.5,169.74 144.1,169.81 143.7,170.31 143.3,170.85 142.9,170.98 142.5,170.61 142.1,170.03 141.7,169.7 141.3,169.9 140.9,170.46 140.5,170.93 140.1,170.93 139.7,170.46 139.3,169.9 138.9,169.7 138.5,170.02 138.1,170.61 137.7,170.98 137.3,170.85 136.9,170.31 136.5,169.81 136.1,169.74 135.7,170.16 135.3,170.74 134.9,171 134.5,170.74 134.1,170.16 133.7,169.74 133.3,169.81 132.9,170.31 132.5,170.85 132.1,170.98 131.7,170.61 131.3,170.03 130.9,169.7 130.5,169.9 130.1,170.46 129.7,170.93 129.3,170.93 128.9,170.46 128.5,169.9 128.1,169.7 127.7,170.02 127.3,170.61 126.9,170.98 126.5,170.85 126.1,170.31 125.7,169.81 125.3,169.74 124.9,170.16 124.5,170.74 124.1,171 123.7,170.74 123.3,170.16 122.9,169.74 122.5,169.81 122.1,170.31 121.7,170.85 121.3,170.98 120.9,170.61 120.5,170.03 120.1,169.7 119.7,169.9 119.3,170.46 118.9,170.93 118.5,170.93 118.1,170.46 117.7,169.9 117.3,169.7 116.9,170.02 116.5,170.61 116.1,170.98 115.7,170.85 115.3,170.31 114.9,169.81 114.5,169.74 114.1,170.16 113.7,170.74 113.3,171" fill="#00ff00"/>
<polyline points="157.3,164 158.3,180 159.3,195 160.4,207 161.5,218.5 163.2,231 164.8,238.5 166.6,243.8 168.5,246.3 170.5,247.2" fill="none" stroke="#00ff00" stroke-width="2.5" stroke-linejoin="round" stroke-linecap="round"/>
<polygon points="168,243.3 168.4,243.57 168.8,244.09 169.2,244.3 169.6,243.97 170,243.46 170.4,243.32 170.8,243.7 171.2,244.19 171.6,244.26 172,243.83 172.4,243.37 172.8,243.37 173.2,243.83 173.6,244.26 174,244.19 174.4,243.7 174.8,243.32 175.2,243.46 175.6,243.97 176,244.3 176.4,244.09 176.8,243.57 177.2,243.3 177.6,243.57 178,244.09 178.4,244.3 178.8,243.97 179.2,243.46 179.6,243.32 180,243.7 180.4,244.19 180.8,244.26 181.2,243.83 181.6,243.37 182,243.37 182.4,243.83 182.8,244.26 183.2,244.19 183.6,243.7 184,243.32 184.4,243.46 184.8,243.97 185.2,244.3 185.6,244.09 186,243.57 186.4,243.3 186.8,243.57 187.2,244.09 187.6,244.3 188,243.97 188.4,243.46 188.8,243.32 189.2,243.7 189.6,244.19 190,244.26 190.4,243.83 190.8,243.37 191.2,243.37 191.6,243.83 192,244.26 192.4,244.19 192.8,243.7 193.2,243.32 193.6,243.46 194,243.97 194.4,244.3 194.8,244.09 195.2,243.57 195.6,243.3 196,243.57 196.4,244.09 196.8,244.3 197.2,243.97 197.6,243.46 198,243.32 198.4,243.7 198.8,244.19 199.2,244.26 199.6,243.83 200,243.37 200.4,243.37 200.8,243.83 201.2,244.26 201.6,244.19 202,243.7 202.4,243.32 202.8,243.46 203.2,243.97 203.6,244.3 204,244.09 204.4,243.57 204.8,243.3 205.2,243.57 205.6,244.09 206,244.3 206.4,243.97 206.8,243.46 207.2,243.32 207.6,243.7 208,244.19 208.4,244.26 208.8,243.83 209.2,243.37 209.2,251.43 208.8,250.97 208.4,250.54 208,250.61 207.6,251.1 207.2,251.48 206.8,251.34 206.4,250.83 206,250.5 205.6,250.71 205.2,251.23 204.8,251.5 204.4,251.23 204,250.71 203.6,250.5 203.2,250.83 202.8,251.34 202.4,251.48 202,251.1 201.6,250.61 201.2,250.54 200.8,250.97 200.4,251.43 200,251.43 199.6,250.97 199.2,250.54 198.8,250.61 198.4,251.1 198,251.48 197.6,251.34 197.2,250.83 196.8,250.5 196.4,250.71 196,251.23 195.6,251.5 195.2,251.23 194.8,250.71 194.4,250.5 194,250.83 193.6,251.34 193.2,251.48 192.8,251.1 192.4,250.61 192,250.54 191.6,250.97 191.2,251.43 190.8,251.43 190.4,250.97 190,250.54 189.6,250.61 189.2,251.1 188.8,251.48 188.4,251.34 188,250.83 187.6,250.5 187.2,250.71 186.8,251.23 186.4,251.5 186,251.23 185.6,250.71 185.2,250.5 184.8,250.83 184.4,251.34 184,251.48 183.6,251.1 183.2,250.61 182.8,250.54 182.4,250.97 182,251.43 181.6,251.43 181.2,250.97 180.8,250.54 180.4,250.61 180,251.1 179.6,251.48 179.2,251.34 178.8,250.83 178.4,250.5 178,250.71 177.6,251.23 177.2,251.5 176.8,251.23 176.4,250.71 176,250.5 175.6,250.83 175.2,251.34 174.8,251.48 174.4,251.1 174,250.61 173.6,250.54 173.2,250.97 172.8,251.43 172.4,251.43 172,250.97 171.6,250.54 171.2,250.61 170.8,251.1 170.4,251.48 170,251.34 169.6,250.83 169.2,250.5 168.8,250.71 168.4,251.23 168,251.5" fill="#00ff00"/>
</g>
<text x="108.3" y="176.2" font-size="16.8" text-anchor="end">300</text>
<text x="108.3" y="240.8" font-size="16.8" text-anchor="end">200</text>
<text x="116" y="289.8" font-size="16.8" text-anchor="middle">3.65</text>
<text x="151.8" y="289.8" font-size="16.8" text-anchor="middle">3.7</text>
<text x="187.4" y="289.8" font-size="16.8" text-anchor="middle">3.75</text>
<rect x="253.8" y="155.2" width="110" height="112.5" fill="#fff" stroke="#5a5a5a" stroke-width="0.9"/>
<clipPath id="c3"><rect x="252.6" y="155.2" width="112.4" height="112.5"/></clipPath>
<g clip-path="url(#c3)">
<line x1="264.7" y1="155.2" x2="264.7" y2="267.7" stroke="#505050" stroke-width="0.9" stroke-dasharray="5.6 2.55"/>
<line x1="309.7" y1="155.2" x2="309.7" y2="267.7" stroke="#505050" stroke-width="0.9" stroke-dasharray="5.6 2.55"/>
<line x1="355.6" y1="155.2" x2="355.6" y2="267.7" stroke="#505050" stroke-width="0.9" stroke-dasharray="5.6 2.55"/>
<line x1="253.8" y1="164.6" x2="363.8" y2="164.6" stroke="#505050" stroke-width="0.9" stroke-dasharray="5.6 2.6"/>
<line x1="253.8" y1="233.4" x2="363.8" y2="233.4" stroke="#505050" stroke-width="0.9" stroke-dasharray="5.6 2.6"/>
<line x1="253.8" y1="246.7" x2="363.8" y2="246.7" stroke="#000" stroke-width="1.8" stroke-dasharray="6 6.26"/>
<polygon points="279,162.96 279.5,165.38 280,168.77 280.5,171.4 281,172.3 281.5,173.67 282,175.22 282.5,177.81 283,180.58 283.5,182.24 284,183.48 284.5,184.15 285,185.07 285.5,187.58 286,189.97 286.5,191.13 287,192 287.5,192.28 288,194.27 288.5,196.1 289,198.17 289.5,198.92 290,199.85 290.5,199.95 291,201.41 291.5,203.83 292,204.87 292.5,205.53 293,205.34 293.5,206.33 294,207.24 294.5,209.61 295,211.02 295.5,211.4 296,210.59 296.5,211.46 297,212.86 297.5,214.78 298,215.97 298.5,215.65 299,215.97 299.5,216.68 300,217.89 300.5,219.85 301,220.19 301.5,220.27 302,219.66 302.5,220.56 303,222.4 303.5,223.77 304,223.53 304.5,223.89 305,223.24 305.5,224.4 306,225.75 306.5,226.72 307,226.49 307.5,226.85 308,226.84 308.5,227.64 309,228.99 309.5,229.56 310,229.49 310.5,228.96 311,229.16 311.5,230.01 312,231.49 312.5,231.49 313,231.08 313.5,231.35 314,231.04 314.5,232.21 315,232.86 315.5,233.28 316,232.89 316.5,232.38 317,233.34 317.5,234.07 318,234.59 318.5,234.88 319,234.53 319.5,234.02 320,234.41 320.5,235.47 321,235.81 321.5,236.39 322,235.63 322.5,235.24 323,235.8 323.5,236.58 324,237.62 324.5,236.71 325,236.49 325.5,236.16 326,237.48 326.5,237.65 327,238.11 327.5,237.93 328,237.59 328.5,237.58 329,238.3 329.5,239.05 330,239.28 330.5,238.75 331,238.21 331.5,238.19 332,238.99 332.5,239.79 333,239.6 333.5,238.92 334,238.76 334.5,238.81 335,239.56 335.5,240.38 336,239.95 336.5,239.11 337,238.8 337.5,239.58 338,240.6 338.5,240.9 339,240.65 339.5,239.63 340,239.15 340.5,240.12 341,241.12 341.5,241.02 342,240.55 342.5,240.12 343,239.84 343.5,240.45 344,241.35 344.5,240.94 345,240.64 345.5,240.27 346,240.7 346.5,240.95 347,241.96 347.5,241.48 348,240.59 348.5,240.81 349,240.7 349.5,241.7 350,242.09 350.5,241.9 351,240.67 351.5,240.65 352,240.77 352.5,241.82 353,241.92 353.5,241.77 354,240.95 354.5,240.68 355,240.93 355.5,242.28 356,242.31 356.5,241.69 357,240.9 357.5,241.07 358,241.68 358.5,241.93 359,242.46 359.5,241.37 360,241.17 360.5,241.33 361,241.54 361.5,242.63 362,242.46 362.5,241.4 363,240.9 363.5,241.52 364,242.09 364.5,242.19 364.5,247.27 364,247.26 363.5,247.87 363,248.52 362.5,247.53 362,246.93 361.5,246.75 361,246.99 360.5,248.23 360,248.29 359.5,247.2 359,246.53 358.5,246.55 358,247.32 357.5,248.33 357,247.95 356.5,247.23 356,246.4 355.5,246.83 355,247.23 354.5,247.97 354,247.81 353.5,246.52 353,246.84 352.5,246.78 352,247.09 351.5,247.66 351,247.11 350.5,246.5 350,246.64 349.5,246.77 349,246.93 348.5,247.68 348,246.77 347.5,246.48 347,245.92 346.5,246.61 346,247.08 345.5,247.43 345,246.57 344.5,245.77 344,245.84 343.5,246.73 343,246.95 342.5,246.66 342,246.08 341.5,245.89 341,245.8 340.5,246.16 340,246.21 339.5,246.62 339,245.32 338.5,245.35 338,245.15 337.5,245.57 337,246.23 336.5,245.59 336,244.94 335.5,244.9 335,244.81 334.5,245.58 334,245.5 333.5,245.08 333,244.26 332.5,244.41 332,244.47 331.5,245.44 331,245.11 330.5,243.97 330,243.35 329.5,243.71 329,244.01 328.5,244.68 328,244.3 327.5,243.8 327,243 326.5,242.74 326,243.6 325.5,243.53 325,243.57 324.5,242.45 324,241.91 323.5,241.75 323,242.86 322.5,243.23 322,242.3 321.5,241.21 321,240.81 320.5,241.25 320,241.71 319.5,241.54 319,241.02 318.5,240.17 318,239.92 317.5,240.22 317,240.65 316.5,240.46 316,239.36 315.5,238.57 315,238.1 314.5,238.53 314,239.17 313.5,238.85 313,237.91 312.5,237.06 312,236.65 311.5,237.23 311,237.34 310.5,237.31 310,235.64 309.5,234.79 309,234.61 308.5,235.78 308,235.67 307.5,234.97 307,233.19 306.5,232.7 306,232.49 305.5,233.22 305,233.14 304.5,232.47 304,230.76 303.5,230.34 303,230.66 302.5,231.15 302,230.22 301.5,228.86 301,227.9 300.5,227 300,227.23 299.5,227.87 299,226.53 298.5,225.29 298,224.11 297.5,223.08 297,223.35 296.5,223.64 296,222.22 295.5,220.87 295,218.91 294.5,218.78 294,218.93 293.5,218.19 293,216.62 292.5,215.2 292,213.18 291.5,212.83 291,212.57 290.5,212.18 290,210.31 289.5,208.46 289,206.93 288.5,206.41 288,206.17 287.5,204.83 287,202.47 286.5,200.18 286,198.79 285.5,197.84 285,197.67 284.5,195.52 284,193.13 283.5,190.32 283,189.49 282.5,188.26 282,186.9 281.5,184.98 281,181.78 280.5,179.59 280,178.06 279.5,176.55 279,175.13" fill="#ff0000"/>
<polyline points="294.8,162.8 295.2,180 295.6,195 297,212 299,228 300.8,237.5 303,243 305.5,246.3" fill="none" stroke="#0000ff" stroke-width="1.6" stroke-linejoin="round" stroke-linecap="round"/>
<rect x="252.8" y="162.6" width="42.2" height="8.8" fill="#0000ff"/>
<rect x="307" y="243.2" width="57.8" height="6.8" fill="#0000ff"/>
<polygon points="252.6,161.8 253,162.06 253.4,162.68 253.8,163.25 254.2,163.38 254.6,163 255,162.35 255.4,161.87 255.8,161.87 256.2,162.35 256.6,163 257,163.38 257.4,163.25 257.8,162.68 258.2,162.06 258.6,161.8 259,162.06 259.4,162.68 259.8,163.25 260.2,163.38 260.6,163 261,162.35 261.4,161.87 261.8,161.87 262.2,162.35 262.6,163 263,163.38 263.4,163.25 263.8,162.68 264.2,162.06 264.6,161.8 265,162.06 265.4,162.68 265.8,163.25 266.2,163.38 266.6,163 267,162.35 267.4,161.87 267.8,161.87 268.2,162.35 268.6,163 269,163.38 269.4,163.25 269.8,162.68 270.2,162.06 270.6,161.8 271,162.06 271.4,162.68 271.8,163.25 272.2,163.38 272.6,163 273,162.35 273.4,161.87 273.8,161.87 274.2,162.35 274.6,163 275,163.38 275.4,163.25 275.8,162.68 276.2,162.06 276.6,161.8 277,162.06 277.4,162.68 277.8,163.25 278.2,163.38 278.6,163 279,162.35 279.4,161.87 279.8,161.87 280.2,162.35 280.6,163 281,163.38 281.4,163.25 281.8,162.68 282.2,162.06 282.6,161.8 283,162.06 283.4,162.68 283.8,163.25 284.2,163.38 284.6,163 285,162.35 285.4,161.87 285.8,161.87 286.2,162.35 286.6,163 287,163.38 287.4,163.25 287.8,162.68 288.2,162.06 288.6,161.8 289,162.06 289.4,162.68 289.8,163.25 290.2,163.38 290.6,163 291,162.35 291.4,161.87 291.8,161.87 292.2,162.35 292.6,163 293,163.38 293.4,163.25 293.8,162.68 293.8,171.32 293.4,170.75 293,170.62 292.6,171 292.2,171.65 291.8,172.13 291.4,172.13 291,171.65 290.6,171 290.2,170.62 289.8,170.75 289.4,171.32 289,171.94 288.6,172.2 288.2,171.94 287.8,171.32 287.4,170.75 287,170.62 286.6,171 286.2,171.65 285.8,172.13 285.4,172.13 285,171.65 284.6,171 284.2,170.62 283.8,170.75 283.4,171.32 283,171.94 282.6,172.2 282.2,171.94 281.8,171.32 281.4,170.75 281,170.62 280.6,171 280.2,171.65 279.8,172.13 279.4,172.13 279,171.65 278.6,171 278.2,170.62 277.8,170.75 277.4,171.32 277,171.94 276.6,172.2 276.2,171.94 275.8,171.32 275.4,170.75 275,170.62 274.6,171 274.2,171.65 273.8,172.13 273.4,172.13 273,171.65 272.6,171 272.2,170.62 271.8,170.75 271.4,171.32 271,171.94 270.6,172.2 270.2,171.94 269.8,171.32 269.4,170.75 269,170.62 268.6,171 268.2,171.65 267.8,172.13 267.4,172.13 267,171.65 266.6,171 266.2,170.62 265.8,170.75 265.4,171.32 265,171.94 264.6,172.2 264.2,171.94 263.8,171.32 263.4,170.75 263,170.62 262.6,171 262.2,171.65 261.8,172.13 261.4,172.13 261,171.65 260.6,171 260.2,170.62 259.8,170.75 259.4,171.32 259,171.94 258.6,172.2 258.2,171.94 257.8,171.32 257.4,170.75 257,170.62 256.6,171 256.2,171.65 255.8,172.13 255.4,172.13 255,171.65 254.6,171 254.2,170.62 253.8,170.75 253.4,171.32 253,171.94 252.6,172.2" fill="#00ff00"/>
<polyline points="293.4,164 294,180 294.6,195 297.2,216.7 300,231.2 301.6,237 303.6,241.5 306,244.3 309,245.9 312,246.5" fill="none" stroke="#00ff00" stroke-width="3" stroke-linejoin="round" stroke-linecap="round"/>
<polygon points="308.5,242.3 308.9,242.56 309.3,243.14 309.7,243.56 310.1,243.49 310.5,242.99 310.9,242.45 311.3,242.32 311.7,242.69 312.1,243.27 312.5,243.6 312.9,243.4 313.3,242.84 313.7,242.37 314.1,242.37 314.5,242.84 314.9,243.4 315.3,243.6 315.7,243.28 316.1,242.69 316.5,242.32 316.9,242.45 317.3,242.99 317.7,243.49 318.1,243.56 318.5,243.14 318.9,242.56 319.3,242.3 319.7,242.56 320.1,243.14 320.5,243.56 320.9,243.49 321.3,242.99 321.7,242.45 322.1,242.32 322.5,242.69 322.9,243.27 323.3,243.6 323.7,243.4 324.1,242.84 324.5,242.37 324.9,242.37 325.3,242.84 325.7,243.4 326.1,243.6 326.5,243.28 326.9,242.69 327.3,242.32 327.7,242.45 328.1,242.99 328.5,243.49 328.9,243.56 329.3,243.14 329.7,242.56 330.1,242.3 330.5,242.56 330.9,243.14 331.3,243.56 331.7,243.49 332.1,242.99 332.5,242.45 332.9,242.32 333.3,242.69 333.7,243.27 334.1,243.6 334.5,243.4 334.9,242.84 335.3,242.37 335.7,242.37 336.1,242.84 336.5,243.4 336.9,243.6 337.3,243.28 337.7,242.69 338.1,242.32 338.5,242.45 338.9,242.99 339.3,243.49 339.7,243.56 340.1,243.14 340.5,242.56 340.9,242.3 341.3,242.56 341.7,243.14 342.1,243.56 342.5,243.49 342.9,242.99 343.3,242.45 343.7,242.32 344.1,242.69 344.5,243.27 344.9,243.6 345.3,243.4 345.7,242.84 346.1,242.37 346.5,242.37 346.9,242.84 347.3,243.4 347.7,243.6 348.1,243.28 348.5,242.69 348.9,242.32 349.3,242.45 349.7,242.99 350.1,243.49 350.5,243.56 350.9,243.14 351.3,242.56 351.7,242.3 352.1,242.56 352.5,243.14 352.9,243.56 353.3,243.49 353.7,242.99 354.1,242.45 354.5,242.32 354.9,242.69 355.3,243.27 355.7,243.6 356.1,243.4 356.5,242.84 356.9,242.37 357.3,242.37 357.7,242.84 358.1,243.4 358.5,243.6 358.9,243.28 359.3,242.69 359.7,242.32 360.1,242.45 360.5,242.99 360.9,243.49 361.3,243.56 361.7,243.14 362.1,242.56 362.5,242.3 362.9,242.56 363.3,243.14 363.7,243.56 364.1,243.49 364.5,242.99 364.5,250.11 364.1,249.61 363.7,249.54 363.3,249.96 362.9,250.54 362.5,250.8 362.1,250.54 361.7,249.96 361.3,249.54 360.9,249.61 360.5,250.11 360.1,250.65 359.7,250.78 359.3,250.41 358.9,249.82 358.5,249.5 358.1,249.7 357.7,250.26 357.3,250.73 356.9,250.73 356.5,250.26 356.1,249.7 355.7,249.5 355.3,249.83 354.9,250.41 354.5,250.78 354.1,250.65 353.7,250.11 353.3,249.61 352.9,249.54 352.5,249.96 352.1,250.54 351.7,250.8 351.3,250.54 350.9,249.96 350.5,249.54 350.1,249.61 349.7,250.11 349.3,250.65 348.9,250.78 348.5,250.41 348.1,249.82 347.7,249.5 347.3,249.7 346.9,250.26 346.5,250.73 346.1,250.73 345.7,250.26 345.3,249.7 344.9,249.5 344.5,249.83 344.1,250.41 343.7,250.78 343.3,250.65 342.9,250.11 342.5,249.61 342.1,249.54 341.7,249.96 341.3,250.54 340.9,250.8 340.5,250.54 340.1,249.96 339.7,249.54 339.3,249.61 338.9,250.11 338.5,250.65 338.1,250.78 337.7,250.41 337.3,249.82 336.9,249.5 336.5,249.7 336.1,250.26 335.7,250.73 335.3,250.73 334.9,250.26 334.5,249.7 334.1,249.5 333.7,249.83 333.3,250.41 332.9,250.78 332.5,250.65 332.1,250.11 331.7,249.61 331.3,249.54 330.9,249.96 330.5,250.54 330.1,250.8 329.7,250.54 329.3,249.96 328.9,249.54 328.5,249.61 328.1,250.11 327.7,250.65 327.3,250.78 326.9,250.41 326.5,249.82 326.1,249.5 325.7,249.7 325.3,250.26 324.9,250.73 324.5,250.73 324.1,250.26 323.7,249.7 323.3,249.5 322.9,249.83 322.5,250.41 322.1,250.78 321.7,250.65 321.3,250.11 320.9,249.61 320.5,249.54 320.1,249.96 319.7,250.54 319.3,250.8 318.9,250.54 318.5,249.96 318.1,249.54 317.7,249.61 317.3,250.11 316.9,250.65 316.5,250.78 316.1,250.41 315.7,249.82 315.3,249.5 314.9,249.7 314.5,250.26 314.1,250.73 313.7,250.73 313.3,250.26 312.9,249.7 312.5,249.5 312.1,249.83 311.7,250.41 311.3,250.78 310.9,250.65 310.5,250.11 310.1,249.61 309.7,249.54 309.3,249.96 308.9,250.54 308.5,250.8" fill="#00ff00"/>
</g>
<text x="246.5" y="170.9" font-size="16.8" text-anchor="end">300</text>
<text x="246.5" y="239.9" font-size="16.8" text-anchor="end">200</text>
<text x="264.6" y="290.4" font-size="16.8" text-anchor="middle">11.95</text>
<text x="310" y="290.4" font-size="16.8" text-anchor="middle">12</text>
<text x="354.9" y="290.4" font-size="16.8" text-anchor="middle">12.05</text>
<rect x="495.4" y="137.5" width="172" height="92.6" fill="#fff" stroke="#5a5a5a" stroke-width="0.9"/>
<clipPath id="c4"><rect x="494.2" y="137.5" width="174.4" height="92.6"/></clipPath>
<g clip-path="url(#c4)">
<line x1="504.2" y1="137.5" x2="504.2" y2="230.1" stroke="#505050" stroke-width="0.9" stroke-dasharray="5.6 2.55"/>
<line x1="566.7" y1="137.5" x2="566.7" y2="230.1" stroke="#505050" stroke-width="0.9" stroke-dasharray="5.6 2.55"/>
<line x1="627.8" y1="137.5" x2="627.8" y2="230.1" stroke="#505050" stroke-width="0.9" stroke-dasharray="5.6 2.55"/>
<line x1="495.4" y1="139.4" x2="667.4" y2="139.4" stroke="#505050" stroke-width="0.9" stroke-dasharray="5.6 2.6"/>
<line x1="495.4" y1="172.3" x2="667.4" y2="172.3" stroke="#505050" stroke-width="0.9" stroke-dasharray="5.6 2.6"/>
<line x1="495.4" y1="205.3" x2="667.4" y2="205.3" stroke="#505050" stroke-width="0.9" stroke-dasharray="5.6 2.6"/>
<line x1="495.4" y1="218.4" x2="667.4" y2="218.4" stroke="#000" stroke-width="1.8" stroke-dasharray="6 6.26"/>
<polygon points="511.2,144.39 511.7,145.72 512.2,147.31 512.7,149.3 513.2,150.86 513.7,152.54 514.2,153.68 514.7,154.48 515.2,154.95 515.7,155.49 516.2,155.81 516.7,156.5 517.2,157.38 517.7,158.68 518.2,160.36 518.7,161.81 519.2,163.26 519.7,164.42 520.2,165.18 520.7,165.76 521.2,165.97 521.7,166.18 522.2,166.62 522.7,167.07 523.2,167.98 523.7,169.44 524.2,170.73 524.7,172.25 525.2,173.35 525.7,174.29 526.2,174.81 526.7,175.16 527.2,175.24 527.7,175.41 528.2,175.74 528.7,176.16 529.2,177.13 529.7,178.38 530.2,179.55 530.7,180.69 531.2,181.7 531.7,182.4 532.2,182.64 532.7,182.62 533.2,182.61 533.7,182.59 534.2,182.95 534.7,183.52 535.2,184.42 535.7,185.46 536.2,186.62 536.7,187.79 537.2,188.5 537.7,188.67 538.2,188.74 538.7,188.86 539.2,188.69 539.7,188.83 540.2,189.19 540.7,189.72 541.2,190.41 541.7,191.56 542.2,192.28 542.7,193.08 543.2,193.6 543.7,193.71 544.2,193.85 544.7,193.77 545.2,193.63 545.7,193.63 546.2,193.94 546.7,194.68 547.2,195.31 547.7,196.33 548.2,196.85 548.7,197.43 549.2,197.75 549.7,197.94 550.2,197.78 550.7,197.61 551.2,197.38 551.7,197.69 552.2,198.06 552.7,198.6 553.2,199.3 553.7,199.87 554.2,200.6 554.7,201.14 555.2,201.21 555.7,201.1 556.2,200.75 556.7,200.76 557.2,200.57 557.7,200.58 558.2,201.09 558.7,201.66 559.2,202.46 559.7,202.96 560.2,203.51 560.7,203.87 561.2,203.67 561.7,203.43 562.2,203.22 562.7,203.09 563.2,202.95 563.7,203.3 564.2,203.79 564.7,204.18 565.2,204.88 565.7,205.33 566.2,205.7 566.7,205.87 567.2,205.7 567.7,205.45 568.2,205.09 568.7,205.19 569.2,204.95 569.7,205.49 570.2,205.7 570.7,206.38 571.2,206.97 571.7,207.51 572.2,207.63 572.7,207.61 573.2,207.26 573.7,206.89 574.2,206.86 574.7,206.54 575.2,206.83 575.7,206.96 576.2,207.65 576.7,208.05 577.2,208.69 577.7,208.87 578.2,208.95 578.7,208.78 579.2,208.58 579.7,208.33 580.2,208.11 580.7,207.92 581.2,207.99 581.7,208.49 582.2,209.03 582.7,209.48 583.2,209.78 583.7,210.09 584.2,210.14 584.7,209.95 585.2,209.59 585.7,209.11 586.2,208.98 586.7,208.94 587.2,209.28 587.7,209.77 588.2,210.09 588.7,210.64 589.2,210.84 589.7,210.98 590.2,211.04 590.7,210.71 591.2,210.37 591.7,210.02 592.2,209.84 592.7,209.82 593.2,210.32 593.7,210.68 594.2,211.08 594.7,211.39 595.2,211.8 595.7,211.61 596.2,211.47 596.7,211.13 597.2,210.81 597.7,210.41 598.2,210.58 598.7,210.52 599.2,210.92 599.7,211.48 600.2,211.92 600.7,212.17 601.2,212.25 601.7,212.28 602.2,211.93 602.7,211.55 603.2,211.24 603.7,211.1 604.2,211.19 604.7,211.17 605.2,211.66 605.7,212.3 606.2,212.65 606.7,212.89 607.2,212.74 607.7,212.47 608.2,212.18 608.7,211.94 609.2,211.69 609.7,211.56 610.2,211.67 610.7,211.76 611.2,212.25 611.7,212.8 612.2,212.98 612.7,213.31 613.2,213.22 613.7,212.9 614.2,212.49 614.7,211.99 615.2,211.9 615.7,211.72 616.2,212.1 616.7,212.25 617.2,212.7 617.7,213.14 618.2,213.43 618.7,213.51 619.2,213.48 619.7,213.08 620.2,212.75 620.7,212.23 621.2,212.1 621.7,212.23 622.2,212.31 622.7,212.87 623.2,213.25 623.7,213.73 624.2,213.91 624.7,213.62 625.2,213.41 625.7,213.13 626.2,212.61 626.7,212.4 627.2,212.28 627.7,212.3 628.2,212.73 628.7,213.2 629.2,213.5 629.7,213.98 630.2,213.95 630.7,213.8 631.2,213.56 631.7,213.28 632.2,212.78 632.7,212.65 633.2,212.57 633.7,212.7 634.2,213.21 634.7,213.7 635.2,213.89 635.7,214.23 636.2,214.19 636.7,213.94 637.2,213.42 637.7,213.08 638.2,212.8 638.7,212.58 639.2,212.69 639.7,212.88 640.2,213.43 640.7,213.89 641.2,214.1 641.7,214.26 642.2,214.28 642.7,214.05 643.2,213.63 643.7,212.99 644.2,212.87 644.7,212.74 645.2,212.93 645.7,213.17 646.2,213.86 646.7,214.06 647.2,214.28 647.7,214.48 648.2,214.19 648.7,213.9 649.2,213.49 649.7,213.16 650.2,212.92 650.7,213.02 651.2,213.12 651.7,213.47 652.2,214.11 652.7,214.48 653.2,214.46 653.7,214.5 654.2,214.24 654.7,213.65 655.2,213.23 655.7,213.02 656.2,212.99 656.7,213.07 657.2,213.52 657.7,213.97 658.2,214.27 658.7,214.46 659.2,214.49 659.7,214.52 660.2,214.19 660.7,213.69 661.2,213.31 661.7,213.09 662.2,213.12 662.7,213.31 663.2,213.7 663.7,214.14 664.2,214.41 664.7,214.64 665.2,214.5 665.7,214.37 666.2,214.07 666.7,213.72 667.2,213.31 667.7,212.94 668.2,213.02 668.2,219.61 667.7,219.56 667.2,219.38 666.7,219.08 666.2,218.69 665.7,218.39 665.2,217.95 664.7,218.2 664.2,218.2 663.7,218.77 663.2,218.99 662.7,219.49 662.2,219.53 661.7,219.53 661.2,219.38 660.7,218.97 660.2,218.49 659.7,218.04 659.2,217.89 658.7,217.94 658.2,218.4 657.7,218.6 657.2,219.16 656.7,219.3 656.2,219.49 655.7,219.44 655.2,219.16 654.7,218.67 654.2,218.24 653.7,217.97 653.2,218 652.7,217.99 652.2,218.45 651.7,218.84 651.2,219.1 650.7,219.55 650.2,219.33 649.7,219.39 649.2,218.78 648.7,218.55 648.2,217.97 647.7,217.77 647.2,217.8 646.7,217.96 646.2,218.41 645.7,218.89 645.2,219.34 644.7,219.46 644.2,219.44 643.7,218.91 643.2,218.62 642.7,218.12 642.2,217.86 641.7,217.66 641.2,217.7 640.7,218.07 640.2,218.52 639.7,219.04 639.2,219.08 638.7,219.17 638.2,219.04 637.7,218.87 637.2,218.24 636.7,217.86 636.2,217.59 635.7,217.6 635.2,217.87 634.7,218.19 634.2,218.67 633.7,218.84 633.2,219.13 632.7,219.14 632.2,218.88 631.7,218.26 631.2,218.09 630.7,217.62 630.2,217.43 629.7,217.41 629.2,217.63 628.7,218.28 628.2,218.39 627.7,218.85 627.2,218.88 626.7,218.81 626.2,218.42 625.7,217.89 625.2,217.72 624.7,217.25 624.2,217.25 623.7,217.32 623.2,217.57 622.7,218.04 622.2,218.54 621.7,218.52 621.2,218.78 620.7,218.34 620.2,217.91 619.7,217.69 619.2,217.22 618.7,216.88 618.2,217.04 617.7,217.22 617.2,217.65 616.7,217.82 616.2,218.3 615.7,218.39 615.2,218.24 614.7,218.14 614.2,217.66 613.7,217.01 613.2,216.65 612.7,216.78 612.2,216.69 611.7,217.1 611.2,217.47 610.7,217.84 610.2,218.12 609.7,218.07 609.2,217.89 608.7,217.46 608.2,216.96 607.7,216.62 607.2,216.28 606.7,216.12 606.2,216.31 605.7,216.77 605.2,217.04 604.7,217.57 604.2,217.7 603.7,217.45 603.2,217.35 602.7,216.96 602.2,216.25 601.7,215.87 601.2,215.79 600.7,215.83 600.2,216.06 599.7,216.33 599.2,216.65 598.7,217.15 598.2,217.12 597.7,216.84 597.2,216.54 596.7,216.11 596.2,215.66 595.7,215.35 595.2,215.16 594.7,215.18 594.2,215.68 593.7,215.87 593.2,216.26 592.7,216.47 592.2,216.44 591.7,216.01 591.2,215.74 590.7,215.35 590.2,214.89 589.7,214.49 589.2,214.33 588.7,214.58 588.2,214.93 587.7,215.2 587.2,215.67 586.7,215.64 586.2,215.49 585.7,215.2 585.2,214.64 584.7,214.26 584.2,213.61 583.7,213.46 583.2,213.45 582.7,213.95 582.2,214.05 581.7,214.34 581.2,214.6 580.7,214.64 580.2,214.51 579.7,214 579.2,213.44 578.7,212.77 578.2,212.65 577.7,212.44 577.2,212.47 576.7,212.7 576.2,213.19 575.7,213.47 575.2,213.6 574.7,213.38 574.2,212.91 573.7,212.53 573.2,211.78 572.7,211.33 572.2,211.25 571.7,211.1 571.2,211.06 570.7,211.4 570.2,211.79 569.7,212 569.2,212.02 568.7,211.77 568.2,211.08 567.7,210.54 567.2,210.05 566.7,209.5 566.2,209.44 565.7,209.32 565.2,209.49 564.7,209.8 564.2,210.21 563.7,210.18 563.2,210.09 562.7,209.73 562.2,209.17 561.7,208.45 561.2,207.97 560.7,207.4 560.2,207.25 559.7,207.25 559.2,207.6 558.7,207.7 558.2,207.88 557.7,207.89 557.2,207.57 556.7,207.16 556.2,206.46 555.7,205.85 555.2,205.04 554.7,204.69 554.2,204.69 553.7,204.85 553.2,205 552.7,205.32 552.2,205.34 551.7,205.08 551.2,204.53 550.7,204.09 550.2,203.19 549.7,202.36 549.2,202.04 548.7,201.68 548.2,201.45 547.7,201.69 547.2,201.72 546.7,202.07 546.2,201.76 545.7,201.62 545.2,200.87 544.7,200.16 544.2,199.17 543.7,198.44 543.2,197.9 542.7,197.56 542.2,197.5 541.7,197.84 541.2,198.06 540.7,197.86 540.2,197.67 539.7,197.1 539.2,196.41 538.7,195.34 538.2,194.47 537.7,193.54 537.2,193.17 536.7,192.91 536.2,192.82 535.7,193.05 535.2,192.99 534.7,192.81 534.2,192.5 533.7,191.74 533.2,190.73 532.7,189.64 532.2,188.33 531.7,187.56 531.2,187.14 530.7,186.98 530.2,186.92 529.7,186.85 529.2,186.79 528.7,186.43 528.2,185.82 527.7,184.68 527.2,183.39 526.7,182.15 526.2,181.24 525.7,180.39 525.2,179.81 524.7,179.41 524.2,179.53 523.7,179.21 523.2,178.93 522.7,178.41 522.2,177.29 521.7,175.87 521.2,174.47 520.7,173.03 520.2,171.98 519.7,170.84 519.2,170.34 518.7,169.89 518.2,169.66 517.7,169.23 517.2,168.56 516.7,167.73 516.2,166.39 515.7,164.59 515.2,162.97 514.7,161.57 514.2,160.26 513.7,159.07 513.2,158.55 512.7,158.01 512.2,157.23 511.7,156.69 511.2,155.77" fill="#ff0000"/>
<polygon points="494.2,146.2 494.6,146.11 495,145.85 495.4,145.48 495.8,145.08 496.2,144.74 496.6,144.54 497,144.51 497.4,144.67 497.8,144.98 498.2,145.38 498.6,145.76 499,146.05 499.4,146.19 499.8,146.15 500.2,145.92 500.6,145.57 501,145.17 501.4,144.81 501.8,144.57 502.2,144.5 502.6,144.62 503,144.9 503.4,145.27 503.8,145.67 504.2,145.99 504.6,146.18 505,146.18 505.4,145.99 505.8,145.67 506.2,145.27 506.6,144.9 507,144.62 507.4,144.5 507.8,144.57 508.2,144.81 508.6,145.17 509,145.57 509.4,145.92 509.8,146.15 510.2,146.19 510.6,146.05 511,145.76 511.4,145.38 511.8,144.98 512.2,144.67 512.6,144.51 513,144.54 513.4,144.74 513.8,145.08 514.2,145.48 514.6,145.85 515,146.11 515.4,146.2 515.8,146.11 516.2,145.85 516.6,145.48 517,145.08 517.4,144.74 517.8,144.54 518.2,144.51 518.6,144.67 519,144.98 519.4,145.38 519.8,145.76 520.2,146.05 520.6,146.19 521,146.15 521.4,145.92 521.8,145.57 522.2,145.17 522.6,144.81 523,144.57 523.4,144.5 523.8,144.62 524.2,144.9 524.6,145.27 525,145.67 525.4,145.99 525.8,146.18 526.2,146.18 526.6,145.99 527,145.67 527.4,145.27 527.8,144.9 528.2,144.62 528.6,144.5 529,144.57 529.4,144.81 529.8,145.17 530.2,145.57 530.6,145.92 531,146.15 531.4,146.19 531.8,146.05 532.2,145.76 532.6,145.38 533,144.98 533.4,144.67 533.8,144.51 534.2,144.54 534.6,144.74 535,145.08 535.4,145.48 535.8,145.85 536.2,146.11 536.6,146.2 537,146.11 537,151.29 536.6,151.2 536.2,151.29 535.8,151.55 535.4,151.92 535,152.32 534.6,152.66 534.2,152.86 533.8,152.89 533.4,152.73 533,152.42 532.6,152.02 532.2,151.64 531.8,151.35 531.4,151.21 531,151.25 530.6,151.48 530.2,151.83 529.8,152.23 529.4,152.59 529,152.83 528.6,152.9 528.2,152.78 527.8,152.5 527.4,152.13 527,151.73 526.6,151.41 526.2,151.22 525.8,151.22 525.4,151.41 525,151.73 524.6,152.13 524.2,152.5 523.8,152.78 523.4,152.9 523,152.83 522.6,152.59 522.2,152.23 521.8,151.83 521.4,151.48 521,151.25 520.6,151.21 520.2,151.35 519.8,151.64 519.4,152.02 519,152.42 518.6,152.73 518.2,152.89 517.8,152.86 517.4,152.66 517,152.32 516.6,151.92 516.2,151.55 515.8,151.29 515.4,151.2 515,151.29 514.6,151.55 514.2,151.92 513.8,152.32 513.4,152.66 513,152.86 512.6,152.89 512.2,152.73 511.8,152.42 511.4,152.02 511,151.64 510.6,151.35 510.2,151.21 509.8,151.25 509.4,151.48 509,151.83 508.6,152.23 508.2,152.59 507.8,152.83 507.4,152.9 507,152.78 506.6,152.5 506.2,152.13 505.8,151.73 505.4,151.41 505,151.22 504.6,151.22 504.2,151.41 503.8,151.73 503.4,152.13 503,152.5 502.6,152.78 502.2,152.9 501.8,152.83 501.4,152.59 501,152.23 500.6,151.83 500.2,151.48 499.8,151.25 499.4,151.21 499,151.35 498.6,151.64 498.2,152.02 497.8,152.42 497.4,152.73 497,152.89 496.6,152.86 496.2,152.66 495.8,152.32 495.4,151.92 495,151.55 494.6,151.29 494.2,151.2" fill="#0000ff"/>
<polyline points="536.6,145.5 537.4,155 540,175 543.5,197 546.6,208 549.8,214.5 554,218.5 559,220.6" fill="none" stroke="#0000ff" stroke-width="2.2" stroke-linejoin="round" stroke-linecap="round"/>
<polygon points="550,207.82 550.4,208 550.8,208.28 551.2,208.68 551.6,209.2 552,209.81 552.4,210.47 552.8,211.1 553.2,211.66 553.6,212.09 554,212.36 554.4,212.46 554.8,212.41 555.2,212.27 555.6,212.08 556,211.91 556.4,211.83 556.8,211.88 557.2,212.06 557.6,212.38 558,212.79 558.4,213.25 558.8,213.69 559.2,214.05 559.6,214.28 560,214.36 560.4,214.28 560.8,214.08 561.2,213.8 561.6,213.5 562,213.25 562.4,213.1 562.8,213.09 563.2,213.23 563.6,213.5 564,213.86 564.4,214.25 564.8,214.61 565.2,214.89 565.6,215.03 566,215.01 566.4,214.86 566.8,214.58 567.2,214.25 567.6,213.92 568,213.66 568.4,213.51 568.8,213.5 569.2,213.65 569.6,213.92 570,214.27 570.4,214.64 570.8,214.97 571.2,215.19 571.6,215.28 572,215.21 572.4,215 572.8,214.7 573.2,214.34 573.6,214.01 574,213.76 574.4,213.64 574.8,213.66 575.2,213.83 575.6,214.12 576,214.47 576.4,214.83 576.8,215.13 577.2,215.31 577.6,215.35 578,215.24 578.4,215 578.8,214.67 579.2,214.32 579.6,214 580,213.77 580.4,213.68 580.8,213.74 581.2,213.94 581.6,214.24 582,214.6 582.4,214.94 582.8,215.22 583.2,215.37 583.6,215.37 584,215.22 584.4,214.95 584.8,214.61 585.2,214.25 585.6,213.95 586,213.75 586.4,213.69 586.8,213.79 587.2,214.02 587.6,214.34 588,214.7 588.4,215.03 588.8,215.28 589.2,215.39 589.6,215.35 590,215.17 590.4,214.88 590.8,214.52 591.2,214.17 591.6,213.89 592,213.73 592.4,213.71 592.8,213.84 593.2,214.1 593.6,214.43 594,214.79 594.4,215.11 594.8,215.32 595.2,215.4 595.6,215.32 596,215.11 596.4,214.79 596.8,214.44 597.2,214.1 597.6,213.84 598,213.71 598.4,213.73 598.8,213.89 599.2,214.18 599.6,214.53 600,214.88 600.4,215.17 600.8,215.36 601.2,215.39 601.6,215.28 602,215.04 602.4,214.71 602.8,214.35 603.2,214.02 603.6,213.8 604,213.7 604.4,213.76 604.8,213.96 605.2,214.26 605.6,214.62 606,214.96 606.4,215.23 606.8,215.38 607.2,215.38 607.6,215.23 608,214.96 608.4,214.62 608.8,214.26 609.2,213.96 609.6,213.76 610,213.7 610.4,213.8 610.8,214.03 611.2,214.35 611.6,214.71 612,215.04 612.4,215.28 612.8,215.4 613.2,215.36 613.6,215.17 614,214.88 614.4,214.53 614.8,214.18 615.2,213.9 615.6,213.73 616,213.71 616.4,213.84 616.8,214.1 617.2,214.44 617.6,214.8 618,215.11 618.4,215.32 618.8,215.4 619.2,215.32 619.6,215.11 620,214.8 620.4,214.44 620.8,214.1 621.2,213.84 621.6,213.71 622,213.73 622.4,213.9 622.8,214.18 623.2,214.53 623.6,214.88 624,215.17 624.4,215.36 624.8,215.4 625.2,215.28 625.6,215.04 626,214.71 626.4,214.35 626.8,214.03 627.2,213.8 627.6,213.7 628,213.76 628.4,213.96 628.8,214.26 629.2,214.62 629.6,214.96 630,215.23 630.4,215.38 630.8,215.38 631.2,215.23 631.6,214.96 632,214.62 632.4,214.26 632.8,213.96 633.2,213.76 633.6,213.7 634,213.8 634.4,214.03 634.8,214.35 635.2,214.71 635.6,215.04 636,215.28 636.4,215.4 636.8,215.36 637.2,215.17 637.6,214.88 638,214.53 638.4,214.18 638.8,213.9 639.2,213.73 639.6,213.71 640,213.84 640.4,214.1 640.8,214.44 641.2,214.8 641.6,215.11 642,215.32 642.4,215.4 642.8,215.32 643.2,215.11 643.6,214.8 644,214.44 644.4,214.1 644.8,213.84 645.2,213.71 645.6,213.73 646,213.9 646.4,214.18 646.8,214.53 647.2,214.88 647.6,215.17 648,215.36 648.4,215.4 648.8,215.28 649.2,215.04 649.6,214.71 650,214.35 650.4,214.03 650.8,213.8 651.2,213.7 651.6,213.76 652,213.96 652.4,214.26 652.8,214.62 653.2,214.96 653.6,215.23 654,215.38 654.4,215.38 654.8,215.23 655.2,214.96 655.6,214.62 656,214.26 656.4,213.96 656.8,213.76 657.2,213.7 657.6,213.8 658,214.03 658.4,214.35 658.8,214.71 659.2,215.04 659.6,215.28 660,215.4 660.4,215.36 660.8,215.17 661.2,214.88 661.6,214.53 662,214.18 662.4,213.9 662.8,213.73 663.2,213.71 663.6,213.84 664,214.1 664.4,214.44 664.8,214.8 665.2,215.11 665.6,215.32 666,215.4 666.4,215.32 666.8,215.11 667.2,214.8 667.6,214.44 668,214.1 668.4,213.84 668.4,222.16 668,221.9 667.6,221.56 667.2,221.2 666.8,220.89 666.4,220.68 666,220.6 665.6,220.68 665.2,220.89 664.8,221.2 664.4,221.56 664,221.9 663.6,222.16 663.2,222.29 662.8,222.27 662.4,222.1 662,221.82 661.6,221.47 661.2,221.12 660.8,220.83 660.4,220.64 660,220.6 659.6,220.72 659.2,220.96 658.8,221.29 658.4,221.65 658,221.97 657.6,222.2 657.2,222.3 656.8,222.24 656.4,222.04 656,221.74 655.6,221.38 655.2,221.04 654.8,220.77 654.4,220.62 654,220.62 653.6,220.77 653.2,221.04 652.8,221.38 652.4,221.74 652,222.04 651.6,222.24 651.2,222.3 650.8,222.2 650.4,221.97 650,221.65 649.6,221.29 649.2,220.96 648.8,220.72 648.4,220.6 648,220.64 647.6,220.83 647.2,221.12 646.8,221.47 646.4,221.82 646,222.1 645.6,222.27 645.2,222.29 644.8,222.16 644.4,221.9 644,221.56 643.6,221.2 643.2,220.89 642.8,220.68 642.4,220.6 642,220.68 641.6,220.89 641.2,221.2 640.8,221.56 640.4,221.9 640,222.16 639.6,222.29 639.2,222.27 638.8,222.1 638.4,221.82 638,221.47 637.6,221.12 637.2,220.83 636.8,220.64 636.4,220.6 636,220.72 635.6,220.96 635.2,221.29 634.8,221.65 634.4,221.97 634,222.2 633.6,222.3 633.2,222.24 632.8,222.04 632.4,221.74 632,221.38 631.6,221.04 631.2,220.77 630.8,220.62 630.4,220.62 630,220.77 629.6,221.04 629.2,221.38 628.8,221.74 628.4,222.04 628,222.24 627.6,222.3 627.2,222.2 626.8,221.97 626.4,221.65 626,221.29 625.6,220.96 625.2,220.72 624.8,220.6 624.4,220.64 624,220.83 623.6,221.12 623.2,221.47 622.8,221.82 622.4,222.1 622,222.27 621.6,222.29 621.2,222.16 620.8,221.9 620.4,221.56 620,221.2 619.6,220.89 619.2,220.68 618.8,220.6 618.4,220.68 618,220.89 617.6,221.2 617.2,221.56 616.8,221.9 616.4,222.16 616,222.29 615.6,222.27 615.2,222.1 614.8,221.82 614.4,221.47 614,221.12 613.6,220.83 613.2,220.64 612.8,220.6 612.4,220.72 612,220.96 611.6,221.29 611.2,221.65 610.8,221.97 610.4,222.2 610,222.3 609.6,222.24 609.2,222.04 608.8,221.74 608.4,221.38 608,221.04 607.6,220.77 607.2,220.62 606.8,220.62 606.4,220.77 606,221.04 605.6,221.38 605.2,221.74 604.8,222.04 604.4,222.24 604,222.3 603.6,222.2 603.2,221.97 602.8,221.65 602.4,221.29 602,220.96 601.6,220.72 601.2,220.6 600.8,220.64 600.4,220.82 600,221.12 599.6,221.47 599.2,221.82 598.8,222.1 598.4,222.27 598,222.29 597.6,222.16 597.2,221.9 596.8,221.56 596.4,221.2 596,220.89 595.6,220.67 595.2,220.6 594.8,220.67 594.4,220.89 594,221.2 593.6,221.56 593.2,221.9 592.8,222.16 592.4,222.29 592,222.27 591.6,222.1 591.2,221.82 590.8,221.47 590.4,221.12 590,220.82 589.6,220.64 589.2,220.6 588.8,220.71 588.4,220.96 588,221.29 587.6,221.64 587.2,221.97 586.8,222.2 586.4,222.29 586,222.23 585.6,222.03 585.2,221.73 584.8,221.37 584.4,221.03 584,220.75 583.6,220.61 583.2,220.6 582.8,220.75 582.4,221.02 582,221.36 581.6,221.72 581.2,222.02 580.8,222.22 580.4,222.27 580,222.18 579.6,221.95 579.2,221.62 578.8,221.26 578.4,220.93 578,220.68 577.6,220.56 577.2,220.6 576.8,220.78 576.4,221.07 576,221.42 575.6,221.76 575.2,222.04 574.8,222.2 574.4,222.21 574,222.08 573.6,221.81 573.2,221.47 572.8,221.11 572.4,220.78 572,220.56 571.6,220.48 571.2,220.54 570.8,220.75 570.4,221.05 570,221.4 569.6,221.72 569.2,221.97 568.8,222.08 568.4,222.05 568,221.87 567.6,221.57 567.2,221.2 566.8,220.82 566.4,220.51 566,220.3 565.6,220.24 565.2,220.32 564.8,220.54 564.4,220.83 564,221.16 563.6,221.44 563.2,221.63 562.8,221.69 562.4,221.58 562,221.33 561.6,220.98 561.2,220.56 560.8,220.16 560.4,219.82 560,219.6 559.6,219.52 559.2,219.59 558.8,219.77 558.4,220.02 558,220.27 557.6,220.47 557.2,220.55 556.8,220.47 556.4,220.24 556,219.86 555.6,219.38 555.2,218.85 554.8,218.34 554.4,217.9 554,217.57 553.6,217.38 553.2,217.31 552.8,217.34 552.4,217.41 552,217.45 551.6,217.41 551.2,217.22 550.8,216.86 550.4,216.32 550,215.62" fill="#0000ff"/>
<polygon points="494.2,144.6 494.6,144.72 495,145.04 495.4,145.49 495.8,145.99 496.2,146.4 496.6,146.65 497,146.68 497.4,146.48 497.8,146.1 498.2,145.62 498.6,145.14 499,144.78 499.4,144.61 499.8,144.67 500.2,144.94 500.6,145.37 501,145.87 501.4,146.31 501.8,146.61 502.2,146.7 502.6,146.55 503,146.21 503.4,145.74 503.8,145.26 504.2,144.85 504.6,144.63 505,144.63 505.4,144.85 505.8,145.26 506.2,145.74 506.6,146.21 507,146.55 507.4,146.7 507.8,146.61 508.2,146.31 508.6,145.87 509,145.37 509.4,144.94 509.8,144.67 510.2,144.61 510.6,144.78 511,145.14 511.4,145.62 511.8,146.1 512.2,146.48 512.6,146.68 513,146.65 513.4,146.4 513.8,145.99 514.2,145.49 514.6,145.04 515,144.72 515.4,144.6 515.8,144.72 516.2,145.04 516.6,145.49 517,145.99 517.4,146.4 517.8,146.65 518.2,146.68 518.6,146.48 519,146.1 519.4,145.62 519.8,145.14 520.2,144.78 520.6,144.61 521,144.67 521.4,144.94 521.8,145.37 522.2,145.87 522.6,146.31 523,146.61 523.4,146.7 523.8,146.55 524.2,146.21 524.6,145.74 525,145.26 525.4,144.85 525.8,144.63 526.2,144.63 526.6,144.85 527,145.26 527.4,145.74 527.8,146.21 528.2,146.55 528.6,146.7 529,146.61 529.4,146.31 529.8,145.87 530.2,145.37 530.6,144.94 531,144.67 531.4,144.61 531.8,144.78 532.2,145.14 532.6,145.62 533,146.1 533.4,146.48 533.8,146.68 534.2,146.65 534.6,146.4 535,145.99 535.4,145.49 535.4,151.91 535,151.41 534.6,151 534.2,150.75 533.8,150.72 533.4,150.92 533,151.3 532.6,151.78 532.2,152.26 531.8,152.62 531.4,152.79 531,152.73 530.6,152.46 530.2,152.03 529.8,151.53 529.4,151.09 529,150.79 528.6,150.7 528.2,150.85 527.8,151.19 527.4,151.66 527,152.14 526.6,152.55 526.2,152.77 525.8,152.77 525.4,152.55 525,152.14 524.6,151.66 524.2,151.19 523.8,150.85 523.4,150.7 523,150.79 522.6,151.09 522.2,151.53 521.8,152.03 521.4,152.46 521,152.73 520.6,152.79 520.2,152.62 519.8,152.26 519.4,151.78 519,151.3 518.6,150.92 518.2,150.72 517.8,150.75 517.4,151 517,151.41 516.6,151.91 516.2,152.36 515.8,152.68 515.4,152.8 515,152.68 514.6,152.36 514.2,151.91 513.8,151.41 513.4,151 513,150.75 512.6,150.72 512.2,150.92 511.8,151.3 511.4,151.78 511,152.26 510.6,152.62 510.2,152.79 509.8,152.73 509.4,152.46 509,152.03 508.6,151.53 508.2,151.09 507.8,150.79 507.4,150.7 507,150.85 506.6,151.19 506.2,151.66 505.8,152.14 505.4,152.55 505,152.77 504.6,152.77 504.2,152.55 503.8,152.14 503.4,151.66 503,151.19 502.6,150.85 502.2,150.7 501.8,150.79 501.4,151.09 501,151.53 500.6,152.03 500.2,152.46 499.8,152.73 499.4,152.79 499,152.62 498.6,152.26 498.2,151.78 497.8,151.3 497.4,150.92 497,150.72 496.6,150.75 496.2,151 495.8,151.41 495.4,151.91 495,152.36 494.6,152.68 494.2,152.8" fill="#00ff00"/>
<polyline points="534.8,147 535.6,156 537.8,172 541,190.5 543.8,201 546,206.2 548.2,209.6 551,212.8" fill="none" stroke="#00ff00" stroke-width="3" stroke-linejoin="round" stroke-linecap="round"/>
<polygon points="548,204.71 548.4,205.44 548.8,206.3 549.2,207.23 549.6,208.18 550,209.08 550.4,209.83 550.8,210.41 551.2,210.76 551.6,210.91 552,210.89 552.4,210.77 552.8,210.62 553.2,210.52 553.6,210.54 554,210.72 554.4,211.07 554.8,211.57 555.2,212.16 555.6,212.78 556,213.34 556.4,213.77 556.8,214.02 557.2,214.08 557.6,213.95 558,213.69 558.4,213.35 558.8,213.02 559.2,212.78 559.6,212.68 560,212.75 560.4,213.01 560.8,213.41 561.2,213.9 561.6,214.39 562,214.82 562.4,215.12 562.8,215.24 563.2,215.16 563.6,214.92 564,214.56 564.4,214.15 564.8,213.77 565.2,213.5 565.6,213.39 566,213.46 566.4,213.71 566.8,214.1 567.2,214.55 567.6,215 568,215.37 568.4,215.59 568.8,215.63 569.2,215.48 569.6,215.18 570,214.77 570.4,214.34 570.8,213.97 571.2,213.71 571.6,213.63 572,213.73 572.4,214 572.8,214.4 573.2,214.85 573.6,215.27 574,215.59 574.4,215.76 574.8,215.74 575.2,215.54 575.6,215.2 576,214.77 576.4,214.34 576.8,213.98 577.2,213.76 577.6,213.71 578,213.86 578.4,214.16 578.8,214.57 579.2,215.02 579.6,215.42 580,215.7 580.4,215.82 580.8,215.75 581.2,215.51 581.6,215.14 582,214.7 582.4,214.27 582.8,213.94 583.2,213.76 583.6,213.76 584,213.94 584.4,214.28 584.8,214.7 585.2,215.15 585.6,215.52 586,215.77 586.4,215.84 586.8,215.72 587.2,215.44 587.6,215.04 588,214.6 588.4,214.19 588.8,213.89 589.2,213.75 589.6,213.8 590,214.02 590.4,214.39 590.8,214.82 591.2,215.26 591.6,215.61 592,215.81 592.4,215.83 592.8,215.67 593.2,215.35 593.6,214.94 594,214.49 594.4,214.11 594.8,213.84 595.2,213.75 595.6,213.84 596,214.11 596.4,214.5 596.8,214.94 597.2,215.36 597.6,215.67 598,215.84 598.4,215.81 598.8,215.61 599.2,215.26 599.6,214.83 600,214.39 600.4,214.03 600.8,213.8 601.2,213.76 601.6,213.89 602,214.2 602.4,214.6 602.8,215.05 603.2,215.45 603.6,215.73 604,215.85 604.4,215.78 604.8,215.53 605.2,215.16 605.6,214.72 606,214.29 606.4,213.96 606.8,213.77 607.2,213.77 607.6,213.96 608,214.29 608.4,214.72 608.8,215.16 609.2,215.53 609.6,215.78 610,215.85 610.4,215.73 610.8,215.45 611.2,215.05 611.6,214.61 612,214.2 612.4,213.9 612.8,213.76 613.2,213.8 613.6,214.03 614,214.39 614.4,214.83 614.8,215.26 615.2,215.61 615.6,215.81 616,215.84 616.4,215.67 616.8,215.36 617.2,214.94 617.6,214.5 618,214.11 618.4,213.84 618.8,213.75 619.2,213.84 619.6,214.11 620,214.5 620.4,214.94 620.8,215.36 621.2,215.67 621.6,215.84 622,215.81 622.4,215.61 622.8,215.26 623.2,214.83 623.6,214.39 624,214.03 624.4,213.8 624.8,213.76 625.2,213.9 625.6,214.2 626,214.61 626.4,215.05 626.8,215.45 627.2,215.73 627.6,215.85 628,215.78 628.4,215.53 628.8,215.16 629.2,214.72 629.6,214.29 630,213.96 630.4,213.77 630.8,213.77 631.2,213.96 631.6,214.29 632,214.72 632.4,215.16 632.8,215.53 633.2,215.78 633.6,215.85 634,215.73 634.4,215.45 634.8,215.05 635.2,214.61 635.6,214.2 636,213.9 636.4,213.76 636.8,213.8 637.2,214.03 637.6,214.39 638,214.83 638.4,215.26 638.8,215.61 639.2,215.81 639.6,215.84 640,215.67 640.4,215.36 640.8,214.94 641.2,214.5 641.6,214.11 642,213.84 642.4,213.75 642.8,213.84 643.2,214.11 643.6,214.5 644,214.94 644.4,215.36 644.8,215.67 645.2,215.84 645.6,215.81 646,215.61 646.4,215.26 646.8,214.83 647.2,214.39 647.6,214.03 648,213.8 648.4,213.76 648.8,213.9 649.2,214.2 649.6,214.61 650,215.05 650.4,215.45 650.8,215.73 651.2,215.85 651.6,215.78 652,215.53 652.4,215.16 652.8,214.72 653.2,214.29 653.6,213.96 654,213.77 654.4,213.77 654.8,213.96 655.2,214.29 655.6,214.72 656,215.16 656.4,215.53 656.8,215.78 657.2,215.85 657.6,215.73 658,215.45 658.4,215.05 658.8,214.61 659.2,214.2 659.6,213.9 660,213.76 660.4,213.8 660.8,214.03 661.2,214.39 661.6,214.83 662,215.26 662.4,215.61 662.8,215.81 663.2,215.84 663.6,215.67 664,215.36 664.4,214.94 664.8,214.5 665.2,214.11 665.6,213.84 666,213.75 666.4,213.84 666.8,214.11 667.2,214.5 667.6,214.94 668,215.36 668.4,215.67 668.4,220.33 668,220.64 667.6,221.06 667.2,221.5 666.8,221.89 666.4,222.16 666,222.25 665.6,222.16 665.2,221.89 664.8,221.5 664.4,221.06 664,220.64 663.6,220.33 663.2,220.16 662.8,220.19 662.4,220.39 662,220.74 661.6,221.17 661.2,221.61 660.8,221.97 660.4,222.2 660,222.24 659.6,222.1 659.2,221.8 658.8,221.39 658.4,220.95 658,220.55 657.6,220.27 657.2,220.15 656.8,220.22 656.4,220.47 656,220.84 655.6,221.28 655.2,221.71 654.8,222.04 654.4,222.23 654,222.23 653.6,222.04 653.2,221.71 652.8,221.28 652.4,220.84 652,220.47 651.6,220.22 651.2,220.15 650.8,220.27 650.4,220.55 650,220.95 649.6,221.39 649.2,221.8 648.8,222.1 648.4,222.24 648,222.2 647.6,221.97 647.2,221.61 646.8,221.17 646.4,220.74 646,220.39 645.6,220.19 645.2,220.16 644.8,220.33 644.4,220.64 644,221.06 643.6,221.5 643.2,221.89 642.8,222.16 642.4,222.25 642,222.16 641.6,221.89 641.2,221.5 640.8,221.06 640.4,220.64 640,220.33 639.6,220.16 639.2,220.19 638.8,220.39 638.4,220.74 638,221.17 637.6,221.61 637.2,221.97 636.8,222.2 636.4,222.24 636,222.1 635.6,221.8 635.2,221.39 634.8,220.95 634.4,220.55 634,220.27 633.6,220.15 633.2,220.22 632.8,220.47 632.4,220.84 632,221.28 631.6,221.71 631.2,222.04 630.8,222.23 630.4,222.23 630,222.04 629.6,221.71 629.2,221.28 628.8,220.84 628.4,220.47 628,220.22 627.6,220.15 627.2,220.27 626.8,220.55 626.4,220.95 626,221.39 625.6,221.8 625.2,222.1 624.8,222.24 624.4,222.2 624,221.97 623.6,221.61 623.2,221.17 622.8,220.74 622.4,220.39 622,220.19 621.6,220.16 621.2,220.33 620.8,220.64 620.4,221.06 620,221.5 619.6,221.89 619.2,222.16 618.8,222.25 618.4,222.16 618,221.89 617.6,221.5 617.2,221.06 616.8,220.64 616.4,220.32 616,220.16 615.6,220.19 615.2,220.39 614.8,220.74 614.4,221.17 614,221.61 613.6,221.97 613.2,222.2 612.8,222.24 612.4,222.1 612,221.8 611.6,221.39 611.2,220.95 610.8,220.55 610.4,220.27 610,220.15 609.6,220.22 609.2,220.47 608.8,220.84 608.4,221.28 608,221.71 607.6,222.04 607.2,222.23 606.8,222.23 606.4,222.04 606,221.71 605.6,221.28 605.2,220.84 604.8,220.47 604.4,220.22 604,220.15 603.6,220.27 603.2,220.55 602.8,220.95 602.4,221.39 602,221.8 601.6,222.1 601.2,222.24 600.8,222.2 600.4,221.97 600,221.61 599.6,221.17 599.2,220.74 598.8,220.39 598.4,220.19 598,220.16 597.6,220.32 597.2,220.64 596.8,221.06 596.4,221.5 596,221.89 595.6,222.15 595.2,222.25 594.8,222.15 594.4,221.89 594,221.5 593.6,221.06 593.2,220.64 592.8,220.32 592.4,220.16 592,220.18 591.6,220.39 591.2,220.74 590.8,221.17 590.4,221.6 590,221.97 589.6,222.19 589.2,222.24 588.8,222.1 588.4,221.8 588,221.39 587.6,220.94 587.2,220.54 586.8,220.26 586.4,220.14 586,220.21 585.6,220.46 585.2,220.83 584.8,221.27 584.4,221.7 584,222.03 583.6,222.21 583.2,222.21 582.8,222.03 582.4,221.69 582,221.27 581.6,220.82 581.2,220.45 580.8,220.2 580.4,220.13 580,220.24 579.6,220.52 579.2,220.92 578.8,221.36 578.4,221.77 578,222.07 577.6,222.2 577.2,222.15 576.8,221.92 576.4,221.56 576,221.12 575.6,220.68 575.2,220.33 574.8,220.12 574.4,220.09 574,220.25 573.6,220.56 573.2,220.97 572.8,221.4 572.4,221.78 572,222.04 571.6,222.13 571.2,222.02 570.8,221.75 570.4,221.35 570,220.9 569.6,220.47 569.2,220.13 568.8,219.96 568.4,219.97 568,220.15 567.6,220.48 567.2,220.9 566.8,221.31 566.4,221.65 566,221.85 565.6,221.88 565.2,221.71 564.8,221.38 564.4,220.94 564,220.46 563.6,220.02 563.2,219.7 562.8,219.54 562.4,219.56 562,219.76 561.6,220.08 561.2,220.46 560.8,220.83 560.4,221.09 560,221.21 559.6,221.13 559.2,220.86 558.8,220.44 558.4,219.92 558,219.38 557.6,218.89 557.2,218.53 556.8,218.33 556.4,218.31 556,218.44 555.6,218.68 555.2,218.95 554.8,219.18 554.4,219.28 554,219.21 553.6,218.93 553.2,218.46 552.8,217.83 552.4,217.11 552,216.37 551.6,215.7 551.2,215.14 550.8,214.73 550.4,214.48 550,214.36 549.6,214.3 549.2,214.24 548.8,214.08 548.4,213.75 548,213.21" fill="#00ff00"/>
</g>
<text x="492.5" y="145.4" font-size="16.8" text-anchor="end">300</text>
<text x="492.5" y="178.2" font-size="16.8" text-anchor="end">250</text>
<text x="492.5" y="211" font-size="16.8" text-anchor="end">200</text>
<text x="505.2" y="252.2" font-size="16.8" text-anchor="middle">32.76</text>
<text x="566.4" y="252.2" font-size="16.8" text-anchor="middle">32.8</text>
<text x="628.2" y="252.2" font-size="16.8" text-anchor="middle">32.84</text>
<rect x="522.6" y="258.6" width="146.6" height="90.5" fill="#fff" stroke="#4a4a4a" stroke-width="0.9"/>
<line x1="525" y1="271.2" x2="551" y2="271.2" stroke="#000" stroke-width="1.9" stroke-dasharray="7 5"/>
<line x1="525" y1="293.3" x2="550.2" y2="293.3" stroke="#ff0000" stroke-width="2"/>
<line x1="525" y1="315.3" x2="550.2" y2="315.3" stroke="#0000ff" stroke-width="2"/>
<line x1="525" y1="337.2" x2="550.2" y2="337.2" stroke="#00ff00" stroke-width="2"/>
<text x="552.2" y="277.6" font-size="19.2" text-anchor="start" fill="#000">Load value</text>
<text x="552.2" y="299.7" font-size="19.2" text-anchor="start" fill="#000">PI-MPVC</text>
<text x="552.2" y="321.7" font-size="19.2" text-anchor="start" fill="#000">CSMC-MPVC</text>
<text x="552.2" y="343.6" font-size="19.2" text-anchor="start" fill="#000">TSMC-MPVC</text>
<text x="80.45" y="381.5" font-size="21.5" text-anchor="middle">0</text>
<text x="154.57" y="381.5" font-size="21.5" text-anchor="middle">5</text>
<text x="228.7" y="381.5" font-size="21.5" text-anchor="middle">10</text>
<text x="302.82" y="381.5" font-size="21.5" text-anchor="middle">15</text>
<text x="376.95" y="381.5" font-size="21.5" text-anchor="middle">20</text>
<text x="451.07" y="381.5" font-size="21.5" text-anchor="middle">25</text>
<text x="525.2" y="381.5" font-size="21.5" text-anchor="middle">30</text>
<text x="599.33" y="381.5" font-size="21.5" text-anchor="middle">35</text>
<text x="673.45" y="381.5" font-size="21.5" text-anchor="middle">40</text>
<text x="74.3" y="362.3" font-size="21.5" text-anchor="end">-400</text>
<text x="74.3" y="318.99" font-size="21.5" text-anchor="end">-300</text>
<text x="74.3" y="275.68" font-size="21.5" text-anchor="end">-200</text>
<text x="74.3" y="232.36" font-size="21.5" text-anchor="end">-100</text>
<text x="74.3" y="189.05" font-size="21.5" text-anchor="end">0</text>
<text x="74.3" y="145.74" font-size="21.5" text-anchor="end">100</text>
<text x="74.3" y="102.42" font-size="21.5" text-anchor="end">200</text>
<text x="74.3" y="59.11" font-size="21.5" text-anchor="end">300</text>
<text x="74.3" y="15.8" font-size="21.5" text-anchor="end">400</text>
<text x="377.3" y="408.1" font-size="23.5" text-anchor="middle">Time (s)</text>
<g transform="translate(16.9 211.2) rotate(-90)"><text x="0" y="0" font-size="22">F<tspan dy="11.8" font-size="18">e</tspan><tspan dy="-11.8" dx="1.2" font-size="22.4"> (N)</tspan></text></g>
</svg>
</body></html>
